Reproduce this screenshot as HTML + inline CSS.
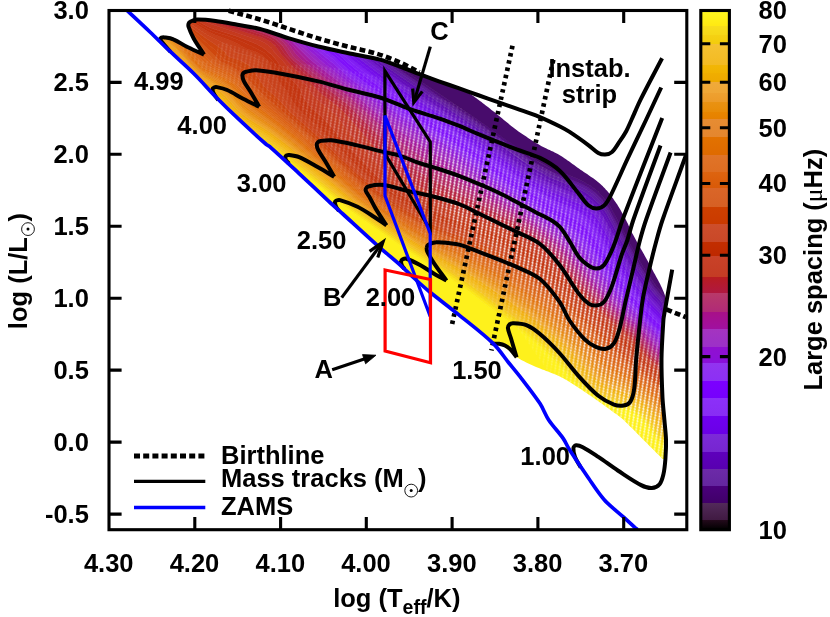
<!DOCTYPE html>
<html><head><meta charset="utf-8"><title>HR diagram</title>
<style>html,body{margin:0;padding:0;background:#fff;}svg{display:block;will-change:transform;}text{font-family:"Liberation Sans",sans-serif;font-weight:bold;fill:#000;}</style></head><body>
<svg width="830" height="617" viewBox="0 0 830 617">
<rect width="830" height="617" fill="#fff"/>
<defs>
<pattern id="tx" patternUnits="userSpaceOnUse" width="4.1" height="2.7" patternTransform="matrix(1 0.3 -0.15 1 0 0)"><ellipse cx="2.05" cy="1.35" rx="0.9" ry="1.22" fill="#fff"/></pattern>
</defs>
<defs><clipPath id="regclip"><path d="M170.4,51.7 L172.3,53.5 L174.3,55.3 L176.2,57.1 L178.2,58.9 L180.2,60.7 L182.1,62.5 L184.1,64.3 L186.0,66.1 L188.0,68.0 L189.9,69.8 L191.8,71.6 L193.7,73.5 L195.7,75.5 L197.6,77.5 L199.6,79.5 L201.5,81.6 L203.4,83.7 L205.3,85.7 L207.2,87.8 L209.1,89.8 L211.1,91.9 L213.0,94.0 L214.9,96.0 L216.9,98.0 L218.7,99.8 L220.5,101.6 L222.3,103.4 L224.1,105.2 L225.9,106.9 L227.7,108.7 L229.5,110.5 L231.3,112.2 L233.2,114.0 L235.0,115.7 L236.9,117.5 L238.7,119.2 L241.0,121.3 L243.3,123.5 L245.6,125.6 L247.9,127.7 L250.2,129.8 L252.5,132.0 L254.8,134.1 L257.1,136.2 L259.4,138.3 L261.7,140.4 L264.1,142.4 L266.4,144.5 L266.7,144.7 L267.0,144.9 L267.3,145.1 L267.6,145.3 L267.9,145.5 L268.2,145.6 L268.5,145.8 L268.8,146.0 L269.1,146.2 L269.4,146.4 L269.7,146.6 L270.0,146.8 L272.5,149.0 L274.9,151.2 L277.4,153.4 L279.8,155.6 L282.2,157.9 L284.7,160.1 L287.1,162.4 L289.5,164.6 L291.9,166.9 L294.4,169.1 L296.8,171.4 L299.2,173.6 L301.6,175.9 L304.1,178.1 L306.5,180.4 L308.9,182.7 L311.3,184.9 L313.7,187.2 L316.2,189.5 L318.6,191.7 L321.0,194.0 L323.4,196.3 L325.9,198.5 L328.3,200.8 L329.5,201.9 L330.7,203.0 L331.9,204.1 L333.1,205.2 L334.4,206.3 L335.6,207.4 L336.8,208.5 L338.0,209.6 L339.2,210.7 L340.5,211.8 L341.7,212.9 L342.9,214.0 L345.8,216.6 L348.7,219.3 L351.6,222.0 L354.5,224.6 L357.4,227.3 L360.3,229.9 L363.2,232.6 L366.1,235.3 L369.0,237.9 L371.9,240.5 L374.9,243.2 L377.8,245.8 L379.6,247.4 L381.5,249.0 L383.3,250.6 L385.2,252.2 L387.0,253.7 L388.9,255.3 L390.8,256.9 L392.6,258.4 L394.5,260.0 L396.3,261.6 L398.2,263.2 L400.0,264.8 L401.3,266.0 L402.5,267.1 L403.8,268.3 L405.0,269.5 L406.3,270.7 L407.5,271.9 L408.8,273.1 L410.0,274.3 L411.2,275.5 L412.5,276.7 L413.7,277.8 L415.0,279.0 L416.2,280.1 L417.3,281.1 L418.5,282.2 L419.7,283.2 L420.8,284.3 L422.0,285.3 L423.2,286.4 L424.4,287.4 L425.6,288.5 L426.8,289.5 L428.0,290.5 L429.2,291.5 L431.6,293.4 L434.0,295.4 L436.4,297.3 L438.9,299.2 L441.3,301.1 L443.7,303.0 L446.2,304.8 L448.6,306.7 L451.1,308.6 L453.5,310.5 L455.9,312.5 L458.3,314.4 L461.3,316.8 L464.2,319.2 L467.2,321.5 L470.2,323.9 L473.2,326.3 L476.1,328.7 L479.1,331.1 L482.0,333.5 L484.9,336.0 L487.7,338.5 L490.5,341.0 L493.3,343.6 L494.3,343.9 L495.3,344.2 L496.3,344.5 L497.3,344.7 L498.3,345.0 L499.3,345.3 L500.3,345.6 L501.3,345.9 L502.2,346.2 L503.2,346.6 L504.1,347.0 L505.0,347.5 L506.0,348.2 L507.0,348.9 L508.0,349.7 L509.0,350.5 L509.9,351.4 L510.8,352.3 L511.7,353.2 L512.7,354.1 L513.6,354.9 L514.6,355.7 L515.6,356.5 L516.6,357.2 L518.1,358.1 L519.7,359.0 L521.3,359.9 L522.9,360.8 L524.5,361.6 L526.2,362.4 L527.8,363.2 L529.5,363.9 L531.1,364.7 L532.8,365.4 L534.4,366.2 L536.1,366.9 L538.1,367.8 L540.1,368.6 L542.1,369.4 L544.1,370.1 L546.1,370.9 L548.1,371.6 L550.1,372.4 L552.1,373.2 L554.1,374.0 L556.1,374.8 L558.1,375.7 L560.0,376.6 L561.6,377.4 L563.3,378.3 L564.9,379.2 L566.4,380.1 L568.0,381.1 L569.6,382.0 L571.2,383.0 L572.7,384.0 L574.3,385.0 L575.8,386.0 L577.4,387.0 L578.9,388.0 L580.5,389.0 L582.1,390.1 L583.7,391.2 L585.3,392.2 L586.9,393.3 L588.5,394.4 L590.1,395.5 L591.7,396.6 L593.3,397.7 L594.8,398.8 L596.4,399.9 L598.0,401.0 L599.7,402.2 L601.3,403.3 L603.0,404.5 L604.6,405.7 L606.3,406.9 L607.9,408.1 L609.6,409.3 L611.2,410.5 L612.9,411.7 L614.5,412.9 L616.2,414.1 L617.8,415.3 L618.3,415.7 L618.8,416.0 L619.3,416.4 L619.8,416.8 L620.3,417.2 L620.8,417.6 L621.3,418.0 L621.7,418.3 L622.2,418.7 L622.7,419.2 L623.1,419.6 L623.6,420.0 L625.2,421.6 L626.9,423.2 L628.5,424.8 L630.1,426.4 L631.7,428.0 L633.4,429.6 L635.0,431.3 L636.6,432.9 L638.2,434.5 L639.8,436.2 L641.4,437.8 L643.0,439.4 L644.6,441.0 L646.2,442.6 L647.9,444.3 L649.5,445.9 L651.1,447.5 L652.7,449.1 L654.4,450.8 L656.0,452.4 L657.6,454.0 L659.2,455.6 L660.9,457.3 L662.5,458.9 L665.4,458.9 L665.5,457.3 L665.6,455.7 L665.7,454.0 L665.8,452.4 L665.9,450.8 L665.9,449.2 L666.0,447.5 L666.0,445.9 L666.0,444.3 L666.0,442.6 L666.0,441.0 L666.0,439.4 L665.9,437.8 L665.9,436.2 L665.8,434.5 L665.6,432.9 L665.5,431.3 L665.3,429.7 L665.2,428.1 L665.0,426.5 L664.9,424.8 L664.7,423.2 L664.5,421.6 L664.4,420.0 L664.2,418.2 L664.1,416.3 L663.9,414.5 L663.7,412.6 L663.5,410.8 L663.3,408.9 L663.2,407.1 L663.0,405.2 L662.9,403.4 L662.7,401.5 L662.6,399.7 L662.5,397.8 L662.3,394.6 L662.2,391.3 L662.1,388.1 L661.9,384.8 L661.8,381.6 L661.7,378.4 L661.6,375.1 L661.6,371.9 L661.5,368.6 L661.5,365.4 L661.5,362.1 L661.5,358.9 L661.6,355.7 L661.6,352.4 L661.7,349.2 L661.9,345.9 L662.0,342.7 L662.2,339.4 L662.4,336.2 L662.6,333.0 L662.8,329.7 L663.0,326.5 L663.2,323.2 L663.4,320.0 L663.4,319.4 L663.5,318.9 L663.6,318.3 L663.6,317.8 L663.7,317.2 L663.8,316.6 L663.9,316.1 L664.0,315.5 L664.1,315.0 L664.2,314.4 L664.3,313.9 L664.4,313.3 L666.4,309.4 L666.3,308.1 L666.1,306.8 L666.0,305.5 L666.0,304.2 L665.9,302.8 L665.8,301.5 L665.7,300.2 L665.5,298.9 L665.3,297.6 L665.1,296.4 L664.8,295.1 L664.4,293.9 L663.7,291.9 L662.8,289.9 L662.0,287.9 L661.0,285.9 L660.1,284.0 L659.0,282.1 L658.0,280.1 L657.0,278.2 L655.9,276.3 L654.9,274.3 L653.8,272.4 L652.8,270.5 L651.9,268.7 L650.9,266.9 L649.9,265.1 L649.0,263.4 L648.0,261.6 L647.0,259.8 L646.0,258.0 L645.0,256.3 L644.1,254.5 L643.1,252.7 L642.1,251.0 L641.1,249.2 L640.3,247.7 L639.5,246.3 L638.7,244.8 L637.8,243.4 L637.0,241.9 L636.2,240.5 L635.4,239.0 L634.6,237.6 L633.8,236.1 L633.0,234.6 L632.2,233.2 L631.4,231.7 L631.0,231.0 L630.7,230.3 L630.4,229.5 L630.1,228.8 L629.8,228.1 L629.4,227.3 L629.1,226.6 L628.8,225.9 L628.5,225.2 L628.2,224.4 L627.9,223.7 L627.5,223.0 L626.7,221.5 L626.0,220.0 L625.2,218.6 L624.4,217.1 L623.6,215.6 L622.8,214.1 L622.0,212.7 L621.2,211.2 L620.4,209.8 L619.5,208.3 L618.7,206.9 L617.8,205.5 L617.1,204.3 L616.3,203.2 L615.5,202.0 L614.7,200.9 L613.9,199.7 L613.1,198.6 L612.3,197.5 L611.5,196.3 L610.6,195.2 L609.8,194.2 L608.9,193.1 L608.0,192.0 L607.3,191.1 L606.5,190.3 L605.7,189.4 L605.0,188.5 L604.2,187.7 L603.4,186.9 L602.6,186.0 L601.7,185.2 L600.9,184.4 L600.1,183.7 L599.2,182.9 L598.3,182.2 L596.8,181.0 L595.2,179.8 L593.6,178.6 L592.0,177.5 L590.4,176.4 L588.7,175.2 L587.1,174.1 L585.4,173.0 L583.8,171.9 L582.2,170.8 L580.5,169.7 L578.9,168.6 L577.3,167.5 L575.7,166.3 L574.1,165.1 L572.5,164.0 L570.9,162.8 L569.3,161.6 L567.6,160.5 L566.0,159.3 L564.4,158.2 L562.7,157.1 L561.1,156.0 L559.4,155.0 L557.8,154.1 L556.2,153.2 L554.6,152.4 L553.0,151.6 L551.4,150.9 L549.7,150.1 L548.1,149.4 L546.4,148.6 L544.8,147.8 L543.2,147.0 L541.6,146.2 L540.0,145.3 L538.0,144.1 L536.0,142.9 L534.0,141.7 L532.0,140.5 L530.1,139.2 L528.1,137.9 L526.2,136.6 L524.2,135.3 L522.3,134.0 L520.4,132.7 L518.5,131.4 L516.6,130.0 L514.9,128.8 L513.3,127.5 L511.6,126.2 L510.0,124.9 L508.4,123.6 L506.8,122.3 L505.2,121.0 L503.6,119.7 L502.0,118.3 L500.4,117.0 L498.8,115.7 L497.2,114.4 L495.8,113.3 L494.4,112.1 L492.9,111.0 L491.5,109.9 L490.1,108.8 L488.6,107.6 L487.2,106.5 L485.8,105.4 L484.3,104.3 L482.9,103.2 L481.5,102.1 L480.0,101.0 L479.0,100.3 L478.0,99.5 L477.0,98.8 L476.1,98.1 L475.1,97.4 L474.1,96.6 L473.1,95.9 L472.1,95.2 L471.1,94.5 L470.0,93.9 L469.0,93.2 L468.0,92.5 L467.4,92.1 L466.7,91.7 L466.1,91.3 L465.4,90.9 L464.8,90.5 L464.1,90.1 L463.4,89.7 L462.8,89.3 L462.1,89.0 L461.4,88.6 L460.7,88.3 L460.0,88.0 L458.3,87.3 L456.5,86.6 L454.8,86.0 L453.0,85.4 L451.2,84.8 L449.5,84.2 L447.7,83.6 L445.9,83.0 L444.2,82.4 L442.4,81.8 L440.6,81.2 L438.9,80.5 L437.3,79.9 L435.6,79.2 L434.0,78.5 L432.4,77.8 L430.8,77.1 L429.2,76.4 L427.6,75.7 L425.9,75.0 L424.3,74.3 L422.7,73.6 L421.1,72.9 L419.5,72.2 L419.1,73.9 L417.3,73.3 L415.6,72.6 L413.9,71.9 L412.1,71.2 L410.4,70.5 L408.7,69.8 L407.0,69.2 L405.2,68.5 L403.5,67.8 L401.7,67.1 L400.0,66.5 L398.3,65.9 L396.7,65.3 L395.0,64.6 L393.4,64.0 L391.7,63.4 L390.1,62.8 L388.4,62.2 L386.7,61.6 L385.1,61.1 L383.4,60.6 L381.7,60.1 L380.0,59.6 L377.3,58.9 L374.6,58.3 L371.9,57.7 L369.2,57.2 L366.5,56.6 L363.8,56.1 L361.1,55.6 L358.4,55.1 L355.6,54.6 L352.9,54.1 L350.2,53.6 L347.5,53.0 L345.1,52.5 L342.6,52.0 L340.2,51.5 L337.7,50.9 L335.3,50.4 L332.9,49.9 L330.4,49.3 L328.0,48.8 L325.6,48.2 L323.1,47.7 L320.7,47.1 L318.3,46.5 L315.9,45.9 L313.4,45.3 L311.0,44.6 L308.6,44.0 L306.1,43.3 L303.7,42.6 L301.3,41.9 L298.9,41.2 L296.4,40.5 L294.0,39.8 L291.6,39.1 L289.2,38.4 L286.8,37.6 L284.3,36.9 L281.9,36.1 L279.5,35.2 L277.0,34.4 L274.6,33.6 L272.2,32.8 L269.8,31.9 L267.3,31.2 L264.9,30.4 L262.5,29.7 L260.0,29.0 L258.2,28.5 L256.3,28.1 L254.4,27.7 L252.6,27.3 L250.7,27.0 L248.8,26.6 L246.9,26.3 L245.0,26.0 L243.1,25.7 L241.3,25.4 L239.4,25.0 L237.5,24.7 L235.7,24.4 L233.9,24.0 L232.0,23.7 L230.2,23.4 L228.4,23.0 L226.6,22.7 L224.7,22.4 L222.9,22.1 L221.1,21.8 L219.3,21.5 L217.4,21.2 L215.6,21.0 L214.0,20.8 L212.5,20.6 L210.9,20.4 L209.3,20.2 L207.7,20.1 L206.1,19.9 L204.6,19.8 L203.0,19.7 L201.4,19.6 L199.8,19.6 L198.3,19.6 L196.7,19.6 L196.1,19.6 L195.6,19.7 L195.0,19.8 L194.4,20.0 L193.9,20.2 L193.3,20.4 L192.8,20.6 L192.2,20.8 L191.7,21.1 L191.1,21.3 L190.6,21.6 L190.1,21.8 L189.9,21.9 L189.8,22.0 L189.6,22.1 L189.5,22.2 L189.3,22.4 L189.2,22.5 L189.0,22.7 L188.9,22.8 L188.8,23.0 L188.7,23.2 L188.7,23.3 L188.6,23.5 L188.5,23.8 L188.5,24.0 L188.4,24.3 L188.4,24.6 L188.4,24.9 L188.4,25.2 L188.4,25.5 L188.4,25.8 L188.4,26.1 L188.5,26.4 L188.5,26.6 L188.6,26.9 L188.9,27.9 L189.3,28.9 L189.7,29.9 L190.1,30.8 L190.5,31.8 L190.9,32.8 L191.3,33.8 L191.8,34.7 L192.2,35.7 L192.7,36.6 L193.2,37.6 L193.7,38.5 L194.5,39.9 L195.3,41.2 L196.1,42.6 L197.0,43.9 L197.8,45.3 L198.7,46.6 L199.6,47.9 L200.5,49.3 L201.4,50.6 L202.3,51.9 L203.1,53.3 L204.0,54.6 L204.0,54.6 L202.7,54.0 L201.3,53.4 L200.0,52.8 L198.6,52.2 L197.3,51.6 L195.9,51.0 L194.6,50.4 L193.2,49.8 L191.9,49.2 L190.5,48.6 L189.2,47.9 L187.9,47.3 L186.7,46.7 L185.4,46.0 L184.2,45.3 L183.0,44.6 L181.8,43.9 L180.6,43.2 L179.4,42.5 L178.2,41.8 L177.0,41.1 L175.8,40.5 L174.6,39.9 L173.3,39.3 L172.6,39.0 L171.9,38.8 L171.2,38.6 L170.5,38.4 L169.8,38.2 L169.0,38.1 L168.3,37.9 L167.6,37.8 L166.8,37.7 L166.1,37.6 L165.3,37.5 L164.6,37.4 L164.3,37.4 L164.1,37.3 L163.8,37.3 L163.5,37.3 L163.3,37.3 L163.0,37.3 L162.7,37.3 L162.5,37.3 L162.2,37.4 L162.0,37.4 L161.7,37.5 L161.5,37.6 L161.3,37.7 L161.2,37.8 L161.0,37.9 L160.9,38.0 L160.7,38.2 L160.5,38.3 L160.4,38.5 L160.3,38.7 L160.2,38.8 L160.2,39.0 L160.2,39.2 L160.2,39.3 L160.4,39.7 L160.6,40.2 L160.9,40.6 L161.2,41.0 L161.5,41.5 L161.8,41.9 L162.2,42.4 L162.5,42.8 L162.9,43.2 L163.3,43.7 L163.7,44.1 L164.0,44.5 L164.5,45.1 L165.0,45.7 L165.6,46.3 L166.1,46.9 L166.6,47.5 L167.2,48.1 L167.7,48.7 L168.2,49.3 L168.8,49.9 L169.3,50.5 L169.9,51.1 L170.4,51.7 Z"/></clipPath></defs>
<g clip-path="url(#regclip)" stroke-width="0.6">
<path d="M101.0,38.0 138.2,58.0 160.0,75.1 174.4,88.0 188.0,93.3 204.0,101.7 210.0,105.5 234.0,125.5 284.0,158.8 302.0,173.4 319.0,186.0 344.0,206.2 408.0,251.0 443.7,274.0 464.0,288.0 519.9,330.0 534.8,342.0 552.4,358.0 574.7,382.0 586.0,391.3 600.0,399.5 608.0,402.9 627.6,410.0 632.0,412.3 637.3,416.0 644.0,422.8 656.0,439.0 664.0,448.0 678.0,460.3 698.0,476.0 698.0,538.0 100.0,538.0 100.0,37.5 101.0,38.0Z" fill="#fef11c" stroke="#fef11c"/>
<path d="M102.0,35.9 136.0,53.2 142.0,56.7 162.0,72.7 176.4,86.0 190.0,91.6 202.0,97.7 210.0,102.6 216.0,107.1 234.0,123.2 284.0,156.4 346.0,205.7 408.0,249.0 450.3,276.0 470.5,290.0 521.2,328.0 538.6,342.0 555.9,358.0 578.0,381.8 587.8,390.0 594.0,394.1 602.0,398.3 628.0,407.9 634.0,411.0 638.0,413.8 646.0,421.9 658.0,438.0 664.0,444.8 676.3,456.0 698.0,473.2 698.0,476.0 678.0,460.3 664.0,448.0 656.0,439.0 643.3,422.0 636.0,414.9 627.6,410.0 608.0,402.9 600.0,399.5 586.0,391.3 574.7,382.0 552.4,358.0 536.0,343.0 520.0,330.1 466.8,290.0 446.7,276.0 408.0,251.0 344.0,206.2 319.0,186.0 302.0,173.4 284.0,158.8 234.0,125.5 210.0,105.5 204.0,101.7 188.0,93.3 174.0,87.7 160.0,75.1 140.0,59.2 131.4,54.0 100.0,37.5 100.0,34.8 102.0,35.9Z" fill="#fce918" stroke="#fce918"/>
<path d="M102.0,33.3 118.0,41.6 140.4,52.0 146.0,55.3 164.0,70.0 178.0,83.5 198.0,92.8 213.2,102.0 235.5,122.0 260.5,138.0 284.0,154.1 348.0,205.4 408.0,247.1 453.7,276.0 476.7,292.0 522.4,326.0 542.2,342.0 558.0,356.6 579.4,380.0 588.6,388.0 594.4,392.0 602.0,396.2 610.0,399.5 628.9,406.0 634.0,408.5 639.0,412.0 646.0,418.9 658.0,434.6 664.4,442.0 676.0,452.8 698.0,470.3 698.0,473.2 678.0,457.4 665.2,446.0 658.0,438.0 644.4,420.0 638.0,413.8 634.0,411.0 628.0,407.9 602.0,398.3 594.0,394.1 587.8,390.0 578.0,381.8 555.9,358.0 538.6,342.0 521.2,328.0 470.5,290.0 450.3,276.0 408.0,249.0 346.0,205.7 284.0,156.4 234.0,123.2 212.0,104.0 200.0,96.7 186.0,89.7 176.4,86.0 162.0,72.7 142.0,56.7 100.0,34.8 100.0,32.2 102.0,33.3Z" fill="#f8dc1a" stroke="#f8dc1a"/>
<path d="M101.4,30.0 124.0,41.3 145.5,50.0 150.0,52.3 164.0,63.7 180.0,80.2 182.0,81.7 196.0,88.4 215.0,100.0 220.0,104.2 229.6,114.0 236.3,120.0 244.0,125.4 264.0,137.7 284.0,151.6 348.7,204.0 408.0,245.1 466.6,282.0 516.0,318.0 534.2,332.0 553.0,348.0 564.0,358.9 581.0,378.0 592.0,387.6 604.0,394.7 612.0,397.9 630.0,404.0 636.0,407.1 640.1,410.0 648.0,417.9 660.0,433.4 668.0,442.2 680.0,452.8 698.0,467.1 698.0,470.3 678.0,454.5 666.3,444.0 659.1,436.0 646.0,418.9 639.0,412.0 634.0,408.5 628.9,406.0 610.0,399.5 602.0,396.2 594.4,392.0 588.6,388.0 579.4,380.0 558.0,356.6 542.2,342.0 522.4,326.0 476.7,292.0 453.7,276.0 408.0,247.1 348.0,205.4 284.0,154.1 260.5,138.0 235.5,122.0 228.4,116.0 218.0,105.8 212.0,101.1 198.0,92.8 178.7,84.0 164.0,70.0 146.0,55.3 140.4,52.0 118.0,41.6 100.0,32.2 100.0,29.3 101.4,30.0Z" fill="#f5d01a" stroke="#f5d01a"/>
<path d="M100.1,26.0 118.0,35.0 130.0,40.3 140.0,43.8 148.0,45.5 161.8,54.0 173.8,64.0 186.0,77.5 198.0,86.2 212.0,94.4 218.0,98.6 222.0,102.1 233.2,114.0 240.2,120.0 265.8,136.0 286.0,150.4 350.0,202.8 408.0,242.9 468.1,280.0 518.2,316.0 538.8,332.0 557.4,348.0 567.4,358.0 584.0,376.9 594.0,385.7 600.7,390.0 608.0,393.6 632.0,402.0 638.0,405.4 642.0,408.4 649.5,416.0 662.0,431.5 669.9,440.0 680.0,448.9 698.0,463.4 698.0,467.1 680.0,452.8 668.0,442.2 660.0,433.4 648.0,417.9 640.1,410.0 636.0,407.1 630.0,404.0 612.0,397.9 604.0,394.7 592.0,387.6 581.0,378.0 564.0,358.9 553.0,348.0 534.2,332.0 516.0,318.0 466.6,282.0 408.0,245.1 348.7,204.0 284.0,151.6 264.0,137.7 244.0,125.4 236.3,120.0 229.6,114.0 220.0,104.2 215.0,100.0 196.0,88.4 182.0,81.7 180.0,80.2 164.0,63.7 150.0,52.3 145.5,50.0 124.0,41.3 104.0,31.4 100.0,29.3 100.1,26.0Z" fill="#f4c325" stroke="#f4c325"/>
<path d="M102.0,23.7 116.0,30.7 130.0,36.8 140.0,40.1 148.0,41.5 166.0,52.6 174.0,59.5 187.9,74.0 194.0,79.6 202.0,85.3 216.0,93.6 221.6,98.0 234.7,112.0 240.0,116.8 247.2,122.0 266.9,134.0 286.0,147.8 324.0,179.0 342.0,194.5 351.7,202.0 408.0,240.8 472.3,280.0 528.2,320.0 548.0,336.0 561.7,348.0 570.0,356.4 586.0,374.8 596.0,383.8 602.0,387.7 608.0,390.7 632.0,399.3 637.1,402.0 642.0,405.4 650.0,413.1 664.0,429.8 670.0,436.1 680.0,445.1 698.0,459.6 698.0,463.4 680.0,448.9 669.9,440.0 662.0,431.5 649.5,416.0 642.0,408.4 638.0,405.4 632.0,402.0 608.0,393.6 600.7,390.0 594.0,385.7 584.0,376.9 567.4,358.0 557.4,348.0 538.8,332.0 518.2,316.0 468.1,280.0 408.0,242.9 350.0,202.8 286.0,150.4 265.8,136.0 240.2,120.0 233.2,114.0 222.0,102.1 218.0,98.6 212.0,94.4 198.0,86.2 186.0,77.5 173.8,64.0 161.8,54.0 148.0,45.5 140.0,43.8 132.0,41.1 120.0,36.0 106.0,29.1 100.0,25.9 100.0,22.6 102.0,23.7Z" fill="#f3bb1e" stroke="#f3bb1e"/>
<path d="M102.0,21.2 116.0,28.2 130.0,34.3 140.0,37.6 148.0,38.8 161.0,46.0 167.1,50.0 174.0,55.8 193.2,76.0 200.9,82.0 220.0,94.0 224.5,98.0 235.3,110.0 241.7,116.0 248.0,120.5 268.0,132.8 286.0,145.9 352.0,200.8 384.0,223.2 410.0,240.6 472.4,278.0 523.6,314.0 544.0,330.0 562.7,346.0 572.6,356.0 588.1,374.0 598.0,382.7 604.0,386.5 610.0,389.4 632.0,397.3 642.0,403.3 650.0,410.7 664.0,426.9 672.0,435.2 698.0,456.8 698.0,459.6 680.0,445.1 670.0,436.1 664.0,429.8 650.0,413.1 642.0,405.4 637.1,402.0 632.0,399.3 608.0,390.7 602.0,387.7 596.0,383.8 586.0,374.8 570.0,356.4 561.7,348.0 548.0,336.0 528.2,320.0 472.3,280.0 408.0,240.8 351.7,202.0 342.0,194.5 324.0,179.0 286.0,147.8 266.9,134.0 247.2,122.0 240.0,116.8 234.7,112.0 221.6,98.0 216.0,93.6 202.0,85.3 194.0,79.6 187.9,74.0 174.0,59.5 166.0,52.6 148.0,41.5 142.0,40.6 134.0,38.3 112.0,28.8 100.0,22.6 100.0,20.2 102.0,21.2Z" fill="#f2b311" stroke="#f2b311"/>
<path d="M101.2,18.0 116.0,25.5 130.0,31.5 140.0,34.8 150.0,36.7 163.6,44.0 169.7,48.0 176.0,53.6 188.7,68.0 194.6,74.0 202.0,79.8 216.0,88.4 222.0,92.8 226.0,96.4 236.2,108.0 242.4,114.0 250.0,119.5 269.9,132.0 286.2,144.0 353.2,200.0 380.0,218.9 410.0,239.0 476.0,278.0 522.0,310.0 542.6,326.0 564.0,344.0 574.0,354.0 590.0,372.5 600.0,381.2 610.0,386.9 633.9,396.0 643.3,402.0 651.9,410.0 664.0,423.7 672.0,431.9 698.0,453.5 698.0,456.8 672.0,435.2 664.0,426.9 650.0,410.7 642.0,403.3 632.0,397.3 610.0,389.4 604.0,386.5 598.0,382.7 588.1,374.0 572.6,356.0 562.7,346.0 544.0,330.0 523.6,314.0 472.4,278.0 410.0,240.6 384.0,223.2 352.0,200.8 286.0,145.9 268.0,132.8 248.0,120.5 241.7,116.0 235.3,110.0 224.5,98.0 220.0,94.0 200.9,82.0 193.2,76.0 174.0,55.8 167.1,50.0 161.0,46.0 148.0,38.8 142.0,38.0 134.0,35.8 112.0,26.3 100.0,20.2 100.0,17.3 101.2,18.0Z" fill="#f0ad12" stroke="#f0ad12"/>
<path d="M100.5,14.0 116.0,22.2 130.0,28.3 140.0,31.6 152.0,34.0 170.0,43.7 176.0,49.3 190.0,65.1 197.0,72.0 204.0,77.7 220.0,87.9 225.0,92.0 244.0,112.2 251.8,118.0 270.0,129.5 288.0,143.0 352.0,197.1 374.0,212.9 404.0,233.2 430.0,249.0 474.0,274.0 501.3,292.0 526.5,310.0 549.4,328.0 568.0,343.9 577.9,354.0 592.0,370.3 600.0,377.6 610.6,384.0 634.0,393.4 640.0,396.9 646.0,401.3 653.0,408.0 672.0,428.1 698.0,449.5 698.0,453.5 672.0,431.9 650.0,408.0 642.0,401.0 632.0,395.1 608.0,385.9 602.0,382.6 596.0,378.1 588.0,370.3 572.2,352.0 564.0,344.0 542.6,326.0 522.0,310.0 496.7,292.0 472.9,276.0 426.0,248.8 404.0,235.1 374.0,214.8 350.6,198.0 286.2,144.0 269.9,132.0 250.0,119.5 242.4,114.0 236.2,108.0 226.0,96.4 222.0,92.8 216.0,88.4 202.0,79.8 194.6,74.0 188.7,68.0 176.0,53.6 169.7,48.0 163.6,44.0 150.0,36.7 142.0,35.3 134.0,32.9 124.0,29.1 112.0,23.6 100.0,17.3 100.0,13.7 100.5,14.0Z" fill="#efa627" stroke="#efa627"/>
<path d="M102.0,12.0 114.0,18.5 128.0,25.0 140.0,29.2 154.0,32.2 168.0,39.3 172.0,43.0 190.7,64.0 198.0,71.1 206.0,77.0 220.0,85.9 225.5,90.0 230.0,94.2 242.0,107.7 246.7,112.0 272.0,128.9 290.0,142.6 352.7,196.0 374.0,211.4 404.0,231.7 430.0,247.4 476.0,273.1 502.0,290.0 526.0,307.0 547.9,324.0 569.2,342.0 579.2,352.0 594.0,369.0 601.8,376.0 612.0,382.1 634.0,391.3 640.0,394.8 646.0,399.1 653.5,406.0 672.0,425.1 698.0,446.4 698.0,449.5 672.0,428.1 651.1,406.0 642.0,398.2 632.0,392.4 608.0,382.7 598.0,376.0 590.0,368.1 576.0,351.9 566.0,342.1 544.0,323.6 523.8,308.0 498.3,290.0 474.0,274.0 430.0,249.0 404.0,233.2 374.0,212.9 353.2,198.0 288.0,143.0 270.0,129.5 251.8,118.0 244.0,112.2 225.0,92.0 220.0,87.9 204.0,77.7 197.0,72.0 190.0,65.1 176.0,49.3 170.0,43.7 152.0,34.0 136.0,30.4 118.0,23.1 100.0,13.7 100.0,10.7 102.0,12.0Z" fill="#ec9b24" stroke="#ec9b24"/>
<path d="M100.4,8.0 110.0,13.8 128.0,22.5 142.0,27.5 159.8,32.0 166.0,35.4 172.0,41.3 191.9,64.0 198.0,69.8 204.0,74.3 220.1,84.0 226.0,88.2 232.0,93.7 242.0,105.0 248.0,110.7 272.0,127.0 290.0,140.8 354.7,196.0 376.0,211.4 406.0,231.5 432.0,246.9 477.5,272.0 502.7,288.0 525.5,304.0 546.0,319.8 570.2,340.0 580.3,350.0 596.0,367.7 603.1,374.0 612.8,380.0 636.0,390.3 647.2,398.0 672.0,422.2 698.0,443.2 698.0,446.4 672.0,425.1 652.0,404.5 644.0,397.6 638.0,393.5 632.0,390.3 610.0,381.1 600.0,374.6 593.1,368.0 577.3,350.0 568.0,340.9 542.9,320.0 522.0,304.0 499.0,288.0 474.1,272.0 430.0,247.4 406.0,232.9 376.0,212.8 354.0,197.0 290.0,142.6 272.0,128.9 246.7,112.0 242.0,107.7 230.0,94.2 225.5,90.0 220.0,85.9 206.0,77.0 198.0,71.1 190.7,64.0 172.0,43.0 168.0,39.3 154.0,32.2 138.0,28.6 120.0,21.4 106.0,14.4 100.0,10.7 100.0,7.7 100.4,8.0Z" fill="#e99117" stroke="#e99117"/>
<path d="M101.4,6.0 111.0,12.0 130.0,21.1 142.0,25.6 160.0,30.6 166.0,33.8 172.0,39.7 190.9,62.0 198.0,68.9 204.0,73.2 222.0,83.6 228.0,87.9 234.0,93.5 244.0,104.7 249.8,110.0 274.0,126.7 292.0,140.7 356.5,196.0 380.0,212.8 408.0,231.4 434.0,246.7 477.3,270.0 502.9,286.0 524.0,300.6 544.3,316.0 570.8,338.0 580.0,346.8 595.3,364.0 602.0,370.4 612.0,377.3 634.0,387.4 646.0,395.2 653.9,402.0 672.0,419.6 698.0,440.4 698.0,443.2 674.0,423.9 652.0,402.2 644.0,395.5 632.0,388.3 610.0,378.5 602.0,373.2 596.0,367.7 580.3,350.0 570.0,339.8 543.8,318.0 522.0,301.5 502.7,288.0 476.0,271.1 432.0,246.9 406.0,231.5 378.0,212.8 356.0,197.0 290.0,140.8 272.0,127.0 248.0,110.7 242.0,105.0 232.0,93.7 226.0,88.2 220.1,84.0 204.0,74.3 198.0,69.8 191.9,64.0 172.0,41.3 166.0,35.4 159.8,32.0 140.0,26.9 124.0,20.7 108.0,12.8 100.0,7.7 100.0,5.1 101.4,6.0Z" fill="#e78913" stroke="#e78913"/>
<path d="M102.0,3.4 112.3,10.0 128.4,18.0 142.0,23.4 160.0,29.1 166.0,32.1 172.0,37.9 184.9,54.0 193.8,64.0 198.0,67.9 202.0,70.9 220.0,80.6 228.2,86.0 234.9,92.0 250.3,108.0 274.0,124.8 294.0,140.5 348.0,187.5 358.5,196.0 380.9,212.0 408.0,229.9 436.0,246.2 477.4,268.0 503.5,284.0 524.0,298.0 545.2,314.0 572.0,336.3 582.0,345.8 596.6,362.0 604.0,369.1 612.0,374.6 634.0,385.4 646.0,393.1 654.2,400.0 674.0,418.6 698.0,437.3 698.0,440.4 674.0,421.4 652.0,400.2 644.0,393.7 632.0,386.4 612.0,377.3 603.9,372.0 597.3,366.0 581.1,348.0 570.8,338.0 544.0,315.8 522.0,299.2 502.9,286.0 477.3,270.0 434.0,246.7 408.0,231.4 380.0,212.8 356.5,196.0 292.0,140.7 274.0,126.7 249.8,110.0 244.0,104.7 234.0,93.5 228.0,87.9 222.0,83.6 204.0,73.2 198.0,68.9 190.9,62.0 172.0,39.7 166.0,33.8 160.0,30.6 140.0,24.9 122.0,17.5 110.0,11.4 100.0,5.1 100.0,2.1 102.0,3.4Z" fill="#e68721" stroke="#e68721"/>
<path d="M102.0,0.4 114.0,8.2 126.0,14.4 140.0,20.5 160.0,27.5 168.0,32.0 174.0,38.3 189.5,58.0 198.0,66.9 204.0,71.1 222.0,80.0 230.0,85.3 235.3,90.0 252.0,107.0 276.0,124.3 295.7,140.0 348.3,186.0 360.5,196.0 385.9,214.0 410.0,229.7 438.0,245.6 480.0,267.5 506.0,283.2 524.0,295.5 546.0,312.0 572.6,334.0 582.0,342.8 598.0,360.1 606.0,367.7 614.0,373.2 634.0,383.4 646.0,391.1 654.4,398.0 674.0,415.8 698.0,434.2 698.0,437.3 674.0,418.6 652.0,398.1 644.0,391.6 634.0,385.4 614.0,375.8 605.2,370.0 598.5,364.0 582.2,346.0 571.7,336.0 542.6,312.0 520.0,295.2 503.5,284.0 477.4,268.0 436.0,246.2 408.0,229.9 380.9,212.0 358.5,196.0 348.0,187.5 294.0,140.5 274.0,124.8 250.3,108.0 234.9,92.0 228.2,86.0 220.0,80.6 202.0,70.9 198.0,67.9 193.8,64.0 184.9,54.0 172.0,37.9 166.0,32.1 160.0,29.1 136.0,21.2 120.0,14.0 112.0,9.8 100.0,2.1 100.0,0.0 102.0,0.4Z" fill="#e4821f" stroke="#e4821f"/>
<path d="M102.0,0.0 105.7,0.0 118.2,8.0 126.0,12.0 140.0,18.4 160.0,26.0 168.0,30.5 174.0,36.5 194.0,61.9 198.1,66.0 204.0,70.2 221.3,78.0 231.0,84.0 236.0,88.3 253.6,106.0 276.0,122.5 296.0,138.4 350.1,186.0 362.5,196.0 388.0,214.0 410.0,228.2 438.0,244.1 480.0,265.5 506.0,280.8 522.0,291.6 546.0,309.4 573.3,332.0 584.0,341.9 600.0,359.1 607.5,366.0 616.3,372.0 638.0,383.8 647.0,390.0 674.0,413.2 698.0,431.3 698.0,434.2 674.0,415.8 652.1,396.0 644.5,390.0 634.0,383.4 614.0,373.2 606.4,368.0 599.8,362.0 582.0,342.8 572.0,333.5 544.0,310.4 520.0,292.6 504.0,281.9 477.4,266.0 438.0,245.6 410.0,229.7 385.9,214.0 360.5,196.0 348.3,186.0 295.7,140.0 276.0,124.3 252.0,107.0 235.3,90.0 230.0,85.3 222.0,80.0 204.0,71.1 198.0,66.9 189.5,58.0 174.0,38.3 168.0,32.0 160.0,27.5 140.0,20.5 125.2,14.0 114.0,8.2 101.4,0.0 102.0,0.0Z" fill="#e27610" stroke="#e27610"/>
<path d="M106.0,0.0 110.1,0.0 126.7,10.0 140.0,16.3 160.0,24.5 168.0,29.0 171.7,32.0 178.0,39.7 184.0,45.5 196.0,60.6 203.2,68.0 224.0,77.7 233.6,84.0 254.1,104.0 278.0,122.1 298.0,138.2 352.0,185.9 364.5,196.0 390.1,214.0 412.0,228.0 440.0,243.6 480.0,263.5 506.0,278.5 522.0,289.0 546.0,306.8 574.0,329.9 585.0,340.0 602.0,358.0 608.6,364.0 616.0,369.3 636.0,380.7 648.0,388.8 672.0,409.1 698.0,428.4 698.0,431.3 674.0,413.2 646.0,389.2 634.0,381.5 616.0,371.8 608.0,366.4 600.0,359.1 584.0,341.9 573.3,332.0 544.2,308.0 520.0,290.1 504.6,280.0 478.0,264.4 438.0,244.1 410.0,228.2 388.0,214.0 362.5,196.0 350.1,186.0 296.0,138.4 276.0,122.5 253.6,106.0 236.0,88.3 231.0,84.0 221.3,78.0 204.0,70.2 198.1,66.0 194.0,61.9 174.0,36.5 168.0,30.5 160.0,26.0 140.0,18.4 126.0,12.0 118.2,8.0 106.0,0.0Z" fill="#e1710e" stroke="#e1710e"/>
<path d="M112.0,0.0 114.5,0.0 127.4,8.0 139.6,14.0 160.0,23.0 170.0,29.1 184.0,42.0 198.7,60.0 206.0,67.3 226.0,77.0 234.0,82.2 256.0,103.2 298.0,136.3 354.0,186.0 364.0,194.1 377.6,204.0 401.4,220.0 418.1,230.0 444.0,244.0 476.0,259.3 504.0,274.9 518.0,283.7 534.0,295.1 552.0,308.9 578.0,330.7 587.9,340.0 604.0,356.9 610.0,362.3 618.0,368.0 636.0,378.8 648.0,387.0 672.0,406.6 698.0,425.5 698.0,428.4 674.0,410.6 646.0,387.4 634.0,379.5 617.1,370.0 610.0,365.1 604.0,359.9 586.0,341.0 574.0,329.9 546.0,306.8 520.0,287.6 505.2,278.0 480.0,263.5 440.0,243.6 412.0,228.0 390.1,214.0 364.5,196.0 352.0,185.9 298.0,138.2 278.0,122.1 254.1,104.0 233.6,84.0 224.0,77.7 203.2,68.0 196.0,60.6 184.0,45.5 178.0,39.7 171.7,32.0 168.0,29.0 160.0,24.5 139.3,16.0 122.8,8.0 110.1,0.0 112.0,0.0Z" fill="#df6f1a" stroke="#df6f1a"/>
<path d="M116.0,0.0 118.9,0.0 131.9,8.0 160.0,21.4 170.0,27.6 185.3,40.0 200.2,58.0 208.2,66.0 226.0,74.9 236.6,82.0 256.0,100.6 304.0,139.4 358.4,188.0 376.9,202.0 398.0,216.3 414.0,226.2 440.0,240.3 474.0,256.3 498.0,269.2 516.0,279.8 534.0,292.5 552.0,306.2 578.0,328.0 588.8,338.0 606.0,355.7 612.0,361.0 650.0,386.6 672.0,404.1 698.0,422.7 698.0,425.5 674.0,408.1 646.0,385.5 612.0,363.8 604.0,356.9 586.0,338.2 574.0,327.2 546.0,304.1 520.0,285.1 505.8,276.0 480.0,261.5 440.1,242.0 414.0,227.7 395.3,216.0 369.2,198.0 354.0,186.0 300.0,138.0 254.6,102.0 240.0,87.4 234.0,82.2 226.0,77.0 206.0,67.3 198.7,60.0 184.0,42.0 170.0,29.1 160.0,23.0 139.6,14.0 127.4,8.0 114.5,0.0 116.0,0.0Z" fill="#de6b1b" stroke="#de6b1b"/>
<path d="M120.0,0.0 122.9,0.0 136.0,8.0 162.0,21.0 182.0,34.3 188.3,40.0 203.4,58.0 211.7,66.0 226.0,72.7 238.0,80.9 256.0,98.2 306.0,139.3 358.0,186.0 378.9,202.0 402.8,218.0 420.0,228.1 446.0,241.7 478.0,256.3 508.0,272.5 520.0,280.0 536.0,291.4 554.0,305.2 580.0,327.1 590.0,336.5 606.0,352.8 614.0,359.9 644.0,380.5 672.0,401.9 698.0,420.1 698.0,422.7 672.0,404.1 646.0,383.6 613.3,362.0 604.2,354.0 586.0,335.3 574.0,324.5 548.0,303.0 520.0,282.5 506.0,273.7 480.0,259.4 443.3,242.0 414.0,226.2 397.5,216.0 371.3,198.0 353.7,184.0 302.0,137.7 256.0,100.6 236.6,82.0 226.0,74.9 208.2,66.0 200.2,58.0 187.3,42.0 180.8,36.0 164.0,23.6 131.9,8.0 118.9,0.0 120.0,0.0Z" fill="#dc6516" stroke="#dc6516"/>
<path d="M124.0,0.0 127.0,0.0 139.9,8.0 162.0,19.5 178.0,29.1 184.0,33.3 191.3,40.0 204.0,54.9 213.1,64.0 216.0,65.9 230.0,72.7 238.0,78.4 258.7,98.0 306.0,137.3 355.4,182.0 372.7,196.0 398.9,214.0 416.0,224.3 445.9,240.0 480.0,255.3 510.0,271.2 522.0,278.7 550.0,299.3 574.0,319.3 586.1,330.0 606.0,349.9 615.0,358.0 648.0,381.6 672.0,399.6 698.0,417.5 698.0,420.1 672.0,401.9 644.0,380.5 614.1,360.0 606.0,352.8 586.0,332.6 576.0,323.7 548.0,300.4 522.0,281.4 508.0,272.5 480.0,257.4 442.5,240.0 416.0,225.9 396.6,214.0 370.6,196.0 355.6,184.0 304.0,137.5 258.0,99.9 238.0,80.9 226.0,72.7 211.7,66.0 203.4,58.0 188.3,40.0 182.0,34.3 164.0,22.2 136.0,8.0 122.9,0.0 124.0,0.0Z" fill="#db6215" stroke="#db6215"/>
<path d="M128.0,0.0 132.0,0.0 148.3,10.0 177.7,26.0 186.4,32.0 193.1,38.0 216.0,62.2 218.2,64.0 232.0,70.6 240.0,76.4 260.0,95.7 308.0,136.4 360.2,184.0 375.4,196.0 401.9,214.0 419.0,224.0 446.3,238.0 482.0,253.5 510.0,268.1 524.0,276.7 548.0,294.4 568.0,310.8 586.0,326.5 608.0,348.2 618.0,357.0 668.0,394.1 698.0,414.4 698.0,417.5 672.0,399.6 648.0,381.6 616.0,358.8 608.0,351.8 586.1,330.0 574.0,319.3 550.0,299.3 522.0,278.7 510.0,271.2 480.0,255.3 445.9,240.0 416.0,224.3 398.9,214.0 372.7,196.0 355.4,182.0 306.0,137.3 258.7,98.0 238.0,78.4 230.0,72.7 216.0,65.9 213.1,64.0 204.0,54.9 191.3,40.0 184.0,33.3 178.0,29.1 162.0,19.5 139.9,8.0 127.0,0.0 128.0,0.0Z" fill="#d85f1c" stroke="#d85f1c"/>
<path d="M132.0,0.0 137.0,0.0 156.0,11.4 178.0,23.4 188.0,30.1 197.0,38.0 221.3,62.0 232.0,66.7 242.0,73.5 262.0,93.7 312.0,137.0 360.7,182.0 375.6,194.0 402.0,212.0 419.2,222.0 447.1,236.0 474.0,246.9 484.0,251.5 510.0,264.6 524.0,273.1 548.0,290.8 564.0,303.8 586.0,323.0 610.0,346.4 621.0,356.0 643.8,374.0 660.0,385.9 698.0,411.2 698.0,414.4 668.0,394.1 619.2,358.0 608.0,348.2 586.0,326.5 566.0,309.1 548.0,294.4 522.0,275.4 508.0,267.0 482.0,253.5 446.3,238.0 419.0,224.0 401.9,214.0 375.4,196.0 360.2,184.0 308.0,136.4 260.0,95.7 240.0,76.4 232.0,70.6 218.2,64.0 216.0,62.2 193.1,38.0 186.4,32.0 177.7,26.0 148.3,10.0 132.0,0.0Z" fill="#d45819" stroke="#d45819"/>
<path d="M138.0,0.0 141.4,0.0 184.0,24.6 194.0,32.0 214.9,50.0 224.0,59.4 236.0,64.5 244.0,69.7 248.0,73.5 258.5,86.0 264.5,92.0 272.0,98.0 293.0,118.0 314.0,136.0 361.1,180.0 378.3,194.0 401.9,210.0 419.2,220.0 447.7,234.0 484.0,248.6 512.0,262.4 524.0,269.5 548.0,287.4 564.0,300.5 588.0,321.7 614.0,346.7 641.5,370.0 664.0,386.6 698.0,408.5 698.0,411.2 660.0,385.9 643.8,374.0 623.5,358.0 610.0,346.4 586.0,323.0 564.0,303.8 548.0,290.8 524.0,273.1 510.0,264.6 484.0,251.5 474.0,246.9 447.1,236.0 419.2,222.0 402.0,212.0 375.6,194.0 360.7,182.0 312.0,137.0 262.0,93.7 242.0,73.5 232.0,66.7 221.3,62.0 194.9,36.0 185.2,28.0 176.0,22.2 150.1,8.0 137.0,0.0 138.0,0.0Z" fill="#cf480e" stroke="#cf480e"/>
<path d="M142.0,0.0 145.8,0.0 186.0,23.4 206.0,38.3 220.4,48.0 224.8,52.0 228.0,56.1 230.0,57.3 240.0,60.3 248.0,64.4 252.0,68.2 260.9,82.0 265.8,88.0 276.0,96.8 290.3,112.0 316.0,134.6 335.9,154.0 364.1,180.0 378.7,192.0 402.2,208.0 419.6,218.0 448.9,232.0 474.0,241.2 486.0,246.3 512.0,258.6 526.0,266.9 542.0,279.0 564.0,297.0 588.0,318.4 612.0,341.5 644.2,370.0 662.0,383.1 698.0,405.8 698.0,408.5 664.0,386.6 643.9,372.0 614.0,346.7 588.0,321.7 562.0,298.7 542.0,282.8 524.0,269.5 512.0,262.4 484.0,248.6 447.7,234.0 419.2,220.0 401.9,210.0 378.3,194.0 361.1,180.0 314.0,136.0 293.0,118.0 272.0,98.0 264.5,92.0 258.5,86.0 248.0,73.5 244.0,69.7 236.0,64.5 224.0,59.4 214.9,50.0 194.0,32.0 186.0,26.0 178.0,20.9 154.0,7.6 142.0,0.0Z" fill="#cc440e" stroke="#cc440e"/>
<path d="M146.0,0.0 150.5,0.0 180.0,17.0 208.0,35.6 228.9,46.0 236.0,52.6 250.8,56.0 255.1,58.0 258.0,60.0 260.0,62.1 262.4,66.0 266.8,78.0 270.0,83.5 273.6,88.0 280.4,94.0 286.1,102.0 291.3,108.0 299.3,116.0 318.0,132.3 337.7,152.0 365.5,178.0 377.1,188.0 400.1,204.0 410.0,210.1 421.0,216.0 451.7,230.0 476.0,238.3 488.0,243.2 514.0,255.2 526.0,262.1 538.0,271.1 566.0,294.9 590.0,316.8 610.0,336.2 647.1,370.0 662.0,380.9 698.0,402.9 698.0,405.8 664.0,384.4 646.7,372.0 612.0,341.5 588.0,318.4 564.0,297.0 542.0,279.0 526.0,266.9 512.0,258.6 486.0,246.3 474.0,241.2 448.9,232.0 419.6,218.0 402.2,208.0 378.7,192.0 364.1,180.0 335.9,154.0 316.0,134.6 290.3,112.0 276.0,96.8 265.8,88.0 260.9,82.0 252.0,68.2 248.0,64.4 242.0,61.1 230.0,57.3 228.0,56.1 224.8,52.0 220.4,48.0 206.0,38.3 188.0,24.7 146.0,0.0Z" fill="#cb451c" stroke="#cb451c"/>
<path d="M152.0,0.0 155.2,0.0 184.0,16.8 208.0,31.8 214.0,34.5 230.0,40.2 237.9,44.0 246.0,48.8 256.1,52.0 263.2,56.0 268.7,62.0 277.7,80.0 282.2,86.0 286.2,90.0 291.5,100.0 297.4,108.0 303.3,114.0 320.0,128.8 342.5,152.0 369.7,178.0 379.0,186.0 401.8,202.0 419.4,212.0 451.2,226.0 478.0,234.8 494.0,241.1 516.0,251.1 528.0,258.1 540.0,267.5 566.0,290.9 610.0,332.6 628.0,348.4 647.7,368.0 662.0,378.6 698.0,400.1 698.0,402.9 662.0,380.9 647.1,370.0 610.0,336.2 590.0,316.8 566.0,294.9 538.0,271.1 526.0,262.1 514.0,255.2 488.0,243.2 476.0,238.3 451.7,230.0 421.0,216.0 403.2,206.0 379.7,190.0 365.5,178.0 337.7,152.0 318.0,132.3 299.3,116.0 291.3,108.0 286.1,102.0 280.4,94.0 273.6,88.0 270.0,83.5 266.8,78.0 262.4,66.0 260.0,62.1 258.0,60.0 255.1,58.0 250.8,56.0 236.0,52.6 228.9,46.0 208.0,35.6 184.0,19.4 150.5,0.0 152.0,0.0Z" fill="#c8411b" stroke="#c8411b"/>
<path d="M156.0,0.0 158.8,0.0 208.0,29.2 214.0,31.7 228.0,36.0 238.2,40.0 251.6,46.0 266.0,53.8 272.2,60.0 283.7,78.0 292.7,88.0 297.7,100.0 303.5,108.0 323.1,126.0 345.2,150.0 373.8,178.0 380.6,184.0 391.3,192.0 403.3,200.0 413.4,206.0 421.4,210.0 450.0,222.0 480.0,231.7 496.0,237.8 514.0,245.8 528.3,254.0 536.0,259.7 544.0,266.7 610.0,329.9 630.0,347.5 643.5,362.0 649.9,368.0 662.0,376.8 686.0,390.5 698.0,398.0 698.0,400.1 686.0,392.5 664.0,379.8 650.0,370.0 643.3,364.0 628.0,348.4 610.0,332.6 564.0,289.1 540.0,267.5 528.0,258.1 516.0,251.1 494.0,241.1 478.0,234.8 451.2,226.0 419.4,212.0 401.8,202.0 379.0,186.0 369.7,178.0 342.5,152.0 320.0,128.8 303.3,114.0 297.4,108.0 291.5,100.0 286.2,90.0 282.2,86.0 277.7,80.0 268.7,62.0 263.2,56.0 256.1,52.0 246.0,48.8 237.9,44.0 230.0,40.2 214.0,34.5 208.0,31.8 184.0,16.8 155.2,0.0 156.0,0.0Z" fill="#c43610" stroke="#c43610"/>
<path d="M160.0,0.0 162.4,0.0 208.0,26.7 214.0,29.1 236.0,36.0 256.5,44.0 263.4,48.0 270.8,54.0 274.7,58.0 288.0,75.7 299.6,88.0 303.8,98.0 309.7,106.0 327.3,122.0 347.6,146.0 362.0,160.2 376.8,176.0 385.7,184.0 405.9,198.0 420.7,206.0 450.6,218.0 480.0,227.5 500.0,235.0 516.0,242.4 530.0,250.8 536.9,256.0 544.0,262.2 567.5,286.0 608.0,325.3 630.0,344.6 643.8,360.0 649.9,366.0 662.0,375.0 686.0,388.4 698.0,395.8 698.0,398.0 686.0,390.5 662.0,376.8 649.9,368.0 643.5,362.0 630.0,347.5 610.0,329.9 544.0,266.7 536.0,259.7 528.0,253.8 514.0,245.8 494.0,237.0 478.0,231.0 450.0,222.0 421.4,210.0 413.4,206.0 403.3,200.0 383.1,186.0 373.8,178.0 347.2,152.0 324.0,126.9 303.5,108.0 297.7,100.0 292.7,88.0 283.7,78.0 272.2,60.0 266.0,53.8 251.6,46.0 238.2,40.0 228.0,36.0 214.0,31.7 208.0,29.2 158.8,0.0 160.0,0.0Z" fill="#c33410" stroke="#c33410"/>
<path d="M164.0,0.0 167.9,0.0 198.0,17.9 208.0,23.1 258.6,40.0 263.3,42.0 268.0,44.9 271.4,48.0 274.3,52.0 280.2,58.0 294.0,74.1 306.8,86.0 312.0,93.6 316.0,98.2 332.0,111.2 337.0,116.0 352.0,135.4 364.6,150.0 372.0,157.8 384.1,172.0 394.0,181.3 406.2,190.0 420.7,198.0 440.2,206.0 503.9,230.0 516.0,236.0 532.0,246.0 539.8,252.0 546.4,258.0 574.4,288.0 608.0,321.2 632.0,342.2 636.0,346.3 645.4,358.0 651.3,364.0 658.0,369.4 664.0,373.3 686.0,385.2 698.0,392.5 698.0,395.8 686.0,388.4 662.0,375.0 650.0,366.1 643.8,360.0 630.0,344.6 608.0,325.3 567.5,286.0 544.0,262.2 536.9,256.0 530.0,250.8 516.0,242.4 500.0,235.0 480.0,227.5 450.6,218.0 420.7,206.0 405.9,198.0 385.7,184.0 376.8,176.0 362.0,160.2 347.6,146.0 327.3,122.0 309.7,106.0 303.8,98.0 299.6,88.0 288.0,75.7 274.7,58.0 270.8,54.0 263.4,48.0 256.5,44.0 236.0,36.0 214.0,29.1 208.0,26.7 162.4,0.0 164.0,0.0Z" fill="#c53a1e" stroke="#c53a1e"/>
<path d="M168.0,0.0 173.4,0.0 198.0,14.5 210.0,20.5 260.0,36.8 266.0,39.2 270.9,42.0 275.5,46.0 281.1,54.0 294.0,68.0 309.9,82.0 322.0,94.0 337.7,106.0 344.2,112.0 388.0,161.8 396.0,170.0 402.0,175.3 414.0,183.6 432.0,193.1 508.0,226.0 520.0,232.7 534.0,242.0 542.0,248.2 550.0,255.6 577.1,286.0 608.0,317.2 616.0,324.7 634.1,340.0 647.1,356.0 652.7,362.0 658.0,366.4 664.0,370.4 686.0,382.1 698.0,389.2 698.0,392.5 686.0,385.2 664.0,373.3 658.0,369.4 652.0,364.7 645.4,358.0 636.0,346.3 632.0,342.2 608.0,321.2 574.4,288.0 546.4,258.0 539.8,252.0 532.0,246.0 516.0,236.0 503.9,230.0 440.2,206.0 420.7,198.0 406.2,190.0 394.9,182.0 386.0,174.0 370.4,156.0 364.6,150.0 352.0,135.4 337.0,116.0 332.0,111.2 316.0,98.2 312.0,93.6 306.8,86.0 294.0,74.1 280.2,58.0 274.3,52.0 271.4,48.0 268.0,44.9 263.3,42.0 258.6,40.0 208.0,23.1 198.0,17.9 168.0,0.0Z" fill="#c23626" stroke="#c23626"/>
<path d="M174.0,0.0 177.5,0.0 198.0,12.0 210.0,18.0 262.0,35.0 269.1,38.0 274.0,41.1 279.3,46.0 284.7,54.0 294.0,64.1 326.0,91.9 339.3,102.0 346.3,108.0 362.0,125.0 378.9,142.0 389.0,154.0 404.0,168.3 416.0,176.9 434.0,187.0 512.0,224.1 522.0,230.2 536.2,240.0 544.0,246.1 552.4,254.0 580.4,286.0 608.0,314.1 616.3,322.0 636.0,338.8 648.0,354.0 654.0,360.5 664.0,368.1 686.0,379.7 698.0,386.7 698.0,389.2 686.0,382.1 664.0,370.4 654.0,363.1 647.1,356.0 634.1,340.0 616.0,324.7 608.0,317.2 577.1,286.0 550.0,255.6 542.0,248.2 534.0,242.0 520.0,232.7 508.0,226.0 432.0,193.1 414.0,183.6 402.0,175.3 396.0,170.0 388.0,161.8 344.2,112.0 337.7,106.0 322.0,94.0 309.9,82.0 294.0,68.0 281.1,54.0 275.5,46.0 270.9,42.0 266.0,39.2 260.0,36.8 216.0,22.7 208.0,19.7 196.0,13.4 174.0,0.0Z" fill="#ba2732" stroke="#ba2732"/>
<path d="M178.0,0.0 181.6,0.0 200.0,10.7 212.0,16.4 264.0,33.4 270.2,36.0 276.0,39.6 282.7,46.0 289.4,56.0 294.0,60.8 324.0,85.9 347.1,104.0 366.0,123.1 383.8,140.0 398.6,156.0 410.0,165.5 422.0,173.4 440.0,183.5 514.0,221.7 529.7,232.0 544.0,242.7 556.1,254.0 581.9,284.0 604.9,308.0 617.2,320.0 632.0,332.2 638.0,337.8 650.0,353.3 656.0,359.7 666.0,366.9 686.0,377.3 698.0,384.3 698.0,386.7 686.0,379.7 666.0,369.3 655.6,362.0 649.7,356.0 636.0,338.8 616.3,322.0 608.0,314.1 580.4,286.0 552.4,254.0 544.0,246.1 536.2,240.0 522.0,230.2 512.0,224.1 434.0,187.0 416.0,176.9 404.0,168.3 389.0,154.0 378.9,142.0 362.0,125.0 346.3,108.0 339.3,102.0 326.0,91.9 294.0,64.1 284.7,54.0 279.3,46.0 274.0,41.1 269.1,38.0 262.0,35.0 210.0,18.0 198.0,12.0 178.0,0.0Z" fill="#b62542" stroke="#b62542"/>
<path d="M182.0,0.0 186.7,0.0 202.0,8.7 212.0,13.5 266.0,31.5 272.0,34.1 278.3,38.0 282.9,42.0 286.5,46.0 293.1,56.0 295.0,58.0 324.0,81.6 348.1,100.0 372.0,122.7 404.0,151.7 413.9,160.0 422.0,165.5 446.0,179.6 490.0,204.7 514.0,217.6 529.5,228.0 546.0,240.4 558.4,252.0 585.8,284.0 608.6,308.0 618.8,318.0 638.0,334.3 656.0,356.3 660.2,360.0 666.0,364.0 686.0,374.4 698.0,381.3 698.0,384.3 686.0,377.3 666.0,366.9 656.0,359.7 650.6,354.0 636.2,336.0 618.0,320.7 608.9,312.0 581.9,284.0 554.2,252.0 546.0,244.4 538.0,238.0 524.0,228.0 514.0,221.7 436.0,181.3 418.0,170.9 404.0,160.7 398.6,156.0 383.8,140.0 366.0,123.1 348.0,104.8 324.0,85.9 294.0,60.8 289.4,56.0 282.7,46.0 276.0,39.6 270.2,36.0 264.0,33.4 218.0,18.6 210.0,15.6 198.0,9.6 182.0,0.0Z" fill="#b32a61" stroke="#b32a61"/>
<path d="M188.0,0.0 191.8,0.0 206.0,7.8 218.0,13.1 268.0,29.7 274.0,32.5 280.0,36.2 288.0,43.6 296.0,54.1 299.7,58.0 326.0,79.1 350.0,97.2 376.0,121.0 410.0,148.6 441.3,170.0 489.9,200.0 518.0,216.3 534.0,227.6 548.0,238.3 562.4,252.0 589.7,284.0 612.1,308.0 620.3,316.0 639.1,332.0 653.6,350.0 658.0,354.8 662.0,358.2 668.0,362.2 688.0,372.5 698.0,378.3 698.0,381.3 686.0,374.4 666.0,364.0 657.8,358.0 652.0,351.9 638.0,334.3 618.8,318.0 608.6,308.0 585.8,284.0 558.4,252.0 545.5,240.0 528.0,226.9 514.0,217.6 490.0,204.7 446.0,179.6 422.0,165.5 413.9,160.0 404.0,151.7 372.0,122.7 348.1,100.0 324.0,81.6 295.0,58.0 293.1,56.0 286.5,46.0 282.9,42.0 278.3,38.0 272.0,34.1 266.0,31.5 212.0,13.5 198.0,6.6 186.7,0.0 188.0,0.0Z" fill="#af2675" stroke="#af2675"/>
<path d="M192.0,0.0 196.4,0.0 208.0,6.2 218.0,10.6 268.0,27.6 276.0,31.3 282.0,35.2 287.6,40.0 296.0,49.6 306.4,60.0 326.5,76.0 350.4,94.0 376.0,116.7 398.0,134.1 410.0,142.8 459.1,176.0 492.0,197.4 520.0,214.4 550.0,236.8 558.1,244.0 565.9,252.0 593.1,284.0 615.2,308.0 622.0,314.6 640.0,330.1 658.4,352.0 662.9,356.0 668.0,359.5 698.0,375.6 698.0,378.3 688.0,372.5 668.0,362.2 662.0,358.2 658.0,354.8 653.6,350.0 639.1,332.0 620.3,316.0 612.1,308.0 589.7,284.0 562.4,252.0 554.5,244.0 547.6,238.0 532.0,226.1 518.0,216.3 489.9,200.0 441.3,170.0 410.0,148.6 376.0,121.0 350.0,97.2 326.0,79.1 299.7,58.0 296.0,54.1 288.0,43.6 280.0,36.2 274.0,32.5 266.0,29.0 214.0,11.5 204.0,6.8 192.0,0.0Z" fill="#a81c8d" stroke="#a81c8d"/>
<path d="M198.0,0.0 201.1,0.0 212.0,5.6 222.0,9.8 269.1,26.0 276.0,29.1 280.9,32.0 288.5,38.0 310.7,60.0 352.1,92.0 376.0,112.7 392.0,125.2 406.0,135.1 441.3,158.0 489.5,192.0 520.0,211.3 542.0,227.4 555.2,238.0 565.7,248.0 596.5,284.0 612.6,302.0 622.4,312.0 640.7,328.0 660.0,350.4 664.1,354.0 670.0,357.9 698.0,373.0 698.0,375.6 668.9,360.0 660.0,353.6 654.7,348.0 639.9,330.0 620.0,312.8 605.8,298.0 591.3,282.0 562.1,248.0 552.0,238.5 540.0,229.0 518.0,213.1 493.0,198.0 459.1,176.0 400.0,135.6 376.0,116.7 350.4,94.0 326.5,76.0 306.4,60.0 296.0,49.6 287.6,40.0 280.0,33.7 274.0,30.2 268.0,27.6 244.0,19.8 216.0,9.8 202.0,3.1 196.4,0.0 198.0,0.0Z" fill="#a41c9f" stroke="#a41c9f"/>
<path d="M202.0,0.0 206.2,0.0 226.0,8.9 270.0,24.3 282.0,30.4 289.3,36.0 317.6,62.0 356.5,92.0 376.0,108.6 388.0,118.0 404.0,129.2 443.0,154.0 489.4,188.0 520.0,208.0 544.3,226.0 558.0,236.9 569.6,248.0 615.9,302.0 624.0,310.4 642.0,326.4 661.0,348.0 670.0,354.9 698.0,370.2 698.0,373.0 670.0,357.9 664.1,354.0 660.0,350.4 640.7,328.0 622.4,312.0 612.6,302.0 596.5,284.0 565.7,248.0 555.2,238.0 542.0,227.4 520.0,211.3 489.5,192.0 441.3,158.0 406.0,135.1 392.0,125.2 376.0,112.7 352.1,92.0 310.7,60.0 288.5,38.0 280.9,32.0 274.0,28.1 268.0,25.6 244.0,17.7 218.0,8.2 206.0,2.6 201.1,0.0 202.0,0.0Z" fill="#a027b9" stroke="#a027b9"/>
<path d="M208.0,0.0 211.6,0.0 232.0,8.7 270.0,22.2 278.0,25.8 284.0,29.4 304.4,46.0 324.8,64.0 334.0,70.8 342.3,78.0 363.3,94.0 388.0,114.0 404.0,125.0 431.5,142.0 446.7,152.0 495.2,188.0 522.0,206.2 548.7,226.0 562.0,236.7 573.7,248.0 584.3,260.0 619.1,302.0 627.0,310.0 642.5,324.0 662.0,345.7 666.0,349.1 672.0,353.1 698.0,367.3 698.0,370.2 671.8,356.0 662.0,349.0 642.0,326.4 624.0,310.4 615.9,302.0 569.6,248.0 559.3,238.0 546.0,227.2 520.0,208.0 489.4,188.0 445.9,156.0 404.0,129.2 388.0,118.0 376.0,108.6 356.5,92.0 317.6,62.0 289.3,36.0 282.0,30.4 276.0,26.9 269.3,24.0 244.0,15.4 220.0,6.5 206.2,0.0 208.0,0.0Z" fill="#9b26c5" stroke="#9b26c5"/>
<path d="M212.0,0.0 216.4,0.0 238.0,9.0 270.0,20.4 278.0,23.9 285.0,28.0 305.6,44.0 346.0,78.0 388.0,110.5 402.0,120.2 434.0,139.9 449.1,150.0 496.0,185.1 524.0,204.7 554.0,227.0 566.0,236.7 577.6,248.0 589.8,262.0 610.2,288.0 622.0,302.0 644.0,323.0 662.0,342.7 666.0,346.2 672.0,350.4 698.0,364.8 698.0,367.3 672.0,353.1 666.0,349.1 662.0,345.7 642.5,324.0 627.0,310.0 619.1,302.0 584.3,260.0 573.7,248.0 562.0,236.7 548.7,226.0 522.0,206.2 495.2,188.0 446.7,152.0 431.5,142.0 404.0,125.0 388.0,114.0 363.3,94.0 342.3,78.0 334.0,70.8 324.8,64.0 304.4,46.0 284.0,29.4 272.0,23.0 230.0,8.0 212.0,0.0Z" fill="#931dd3" stroke="#931dd3"/>
<path d="M218.0,0.0 221.4,0.0 242.0,8.4 270.0,18.5 278.0,22.1 286.0,26.7 309.2,44.0 334.0,64.0 348.0,76.5 388.0,107.0 402.0,116.7 433.2,136.0 451.2,148.0 499.2,184.0 524.0,201.6 562.4,230.0 574.0,239.9 583.6,250.0 594.0,262.4 611.8,286.0 623.1,300.0 645.5,322.0 662.0,339.7 666.8,344.0 672.5,348.0 698.0,362.3 698.0,364.8 672.0,350.4 666.0,346.2 662.0,342.7 644.0,323.0 622.0,302.0 610.2,288.0 589.8,262.0 577.6,248.0 567.4,238.0 555.3,228.0 524.0,204.7 496.0,185.1 449.1,150.0 434.0,139.9 402.0,120.2 388.0,110.5 346.0,78.0 305.6,44.0 285.0,28.0 278.1,24.0 272.0,21.2 232.0,6.6 216.4,0.0 218.0,0.0Z" fill="#8f1ddc" stroke="#8f1ddc"/>
<path d="M222.0,0.0 227.1,0.0 246.0,7.7 270.0,16.5 280.0,21.0 288.0,25.8 310.7,42.0 334.0,60.1 344.0,69.7 351.6,76.0 388.0,103.2 404.0,114.2 435.7,134.0 453.6,146.0 504.0,183.8 546.0,214.3 568.6,230.0 577.8,238.0 586.0,247.0 598.0,261.9 619.8,292.0 632.0,306.0 666.0,340.1 674.2,346.0 698.0,359.4 698.0,362.3 672.5,348.0 666.8,344.0 662.0,339.7 645.5,322.0 623.1,300.0 611.8,286.0 594.0,262.4 583.6,250.0 574.0,239.9 562.4,230.0 524.0,201.6 499.2,184.0 451.2,148.0 433.2,136.0 402.0,116.7 388.0,107.0 348.0,76.5 334.0,64.0 309.2,44.0 286.0,26.7 280.0,23.1 272.0,19.4 240.9,8.0 222.0,0.0Z" fill="#8d25eb" stroke="#8d25eb"/>
<path d="M228.0,0.0 232.9,0.0 270.0,14.5 280.0,19.0 288.6,24.0 309.4,38.0 334.0,56.4 352.0,72.9 384.0,96.7 404.0,110.5 452.9,142.0 506.0,181.6 542.0,207.6 574.0,228.9 582.0,236.1 590.0,245.5 600.9,260.0 621.5,290.0 633.3,304.0 666.0,336.8 676.0,344.0 698.0,356.5 698.0,359.4 674.0,345.9 668.0,341.7 662.0,336.4 624.6,298.0 615.2,286.0 592.0,254.2 579.8,240.0 568.6,230.0 546.0,214.3 504.0,183.8 453.6,146.0 435.7,134.0 404.0,114.2 388.0,103.2 351.6,76.0 344.0,69.7 334.0,60.1 310.7,42.0 288.0,25.8 281.8,22.0 274.0,18.2 241.7,6.0 228.0,0.0Z" fill="#8922f3" stroke="#8922f3"/>
<path d="M234.0,0.0 238.2,0.0 276.0,15.1 286.0,20.3 307.5,34.0 334.0,52.9 352.5,70.0 384.0,93.4 404.0,107.1 454.6,140.0 508.0,179.8 542.0,204.0 577.3,226.0 584.0,232.0 590.0,239.1 604.0,258.8 623.0,288.0 634.5,302.0 666.0,333.8 676.0,341.1 698.0,353.8 698.0,356.5 676.0,344.0 668.0,338.5 660.0,331.2 633.3,304.0 621.5,290.0 600.9,260.0 590.0,245.5 582.0,236.1 574.0,228.9 542.0,207.6 506.0,181.6 452.9,142.0 404.0,110.5 382.0,95.2 350.9,72.0 334.0,56.4 303.7,34.0 286.0,22.3 278.0,18.0 240.0,3.0 232.9,0.0 234.0,0.0Z" fill="#8011fa" stroke="#8011fa"/>
<path d="M240.0,0.0 243.6,0.0 278.0,14.1 286.0,18.3 311.5,34.0 334.0,49.6 348.0,62.7 356.0,69.5 388.0,93.0 456.3,138.0 512.0,179.4 540.0,199.1 552.0,206.8 572.8,218.0 580.0,222.7 586.0,228.1 592.0,235.4 606.0,256.2 623.3,284.0 629.0,292.0 635.7,300.0 652.0,317.3 666.0,330.8 676.0,338.2 698.0,351.0 698.0,353.8 677.4,342.0 668.0,335.5 660.0,328.2 636.3,304.0 629.2,296.0 623.0,288.0 604.0,258.8 590.0,239.1 584.0,232.0 577.3,226.0 542.0,204.0 508.0,179.8 454.6,140.0 404.0,107.1 384.0,93.4 352.5,70.0 334.0,52.9 307.5,34.0 280.0,17.0 270.0,12.5 238.2,0.0 240.0,0.0Z" fill="#7f10fa" stroke="#7f10fa"/>
<path d="M244.0,0.0 249.2,0.0 276.0,11.1 286.0,16.2 312.6,32.0 334.0,46.3 354.0,64.4 378.0,82.5 402.0,99.2 434.0,119.8 458.0,136.0 528.0,187.3 550.0,201.6 574.4,214.0 582.0,218.8 588.0,224.1 594.0,231.5 608.0,253.4 625.0,282.0 630.7,290.0 638.8,300.0 652.0,314.3 666.0,327.6 677.5,336.0 698.0,348.1 698.0,351.0 678.0,339.4 668.0,332.4 656.0,321.3 637.5,302.0 624.6,286.0 606.0,256.2 592.0,235.4 586.0,228.1 580.0,222.7 572.8,218.0 552.0,206.8 540.0,199.1 512.0,179.4 456.3,138.0 388.0,93.0 356.0,69.5 348.0,62.7 334.0,49.6 311.5,34.0 280.0,15.1 244.0,0.0Z" fill="#831ef8" stroke="#831ef8"/>
<path d="M250.0,0.0 254.7,0.0 278.0,10.0 307.1,26.0 320.1,34.0 334.0,43.1 356.0,62.6 378.0,79.2 404.0,97.3 436.2,118.0 459.8,134.0 528.0,183.9 548.0,196.7 558.0,201.9 576.0,210.3 585.1,216.0 590.0,220.5 596.0,228.0 628.0,281.9 635.3,292.0 645.4,304.0 656.0,315.3 666.0,324.5 678.0,333.2 698.0,345.2 698.0,348.1 680.0,337.6 670.0,330.8 660.0,322.2 646.0,308.0 635.4,296.0 626.4,284.0 608.0,253.4 594.0,231.5 588.0,224.1 582.0,218.8 574.4,214.0 550.0,201.6 528.0,187.3 458.0,136.0 434.0,119.8 402.0,99.2 378.0,82.5 354.0,64.4 334.0,46.3 315.7,34.0 282.0,14.1 250.0,0.0Z" fill="#811ef4" stroke="#811ef4"/>
<path d="M256.0,0.0 260.1,0.0 282.0,9.9 296.0,18.0 311.5,26.0 334.0,40.0 356.0,59.2 376.0,74.5 404.0,94.1 460.0,130.9 528.0,180.5 548.0,193.0 558.0,198.1 576.1,206.0 586.0,212.0 592.0,217.4 598.0,225.0 628.5,278.0 636.9,290.0 646.5,302.0 656.0,312.3 666.0,321.4 678.0,330.1 698.0,342.2 698.0,345.2 680.0,334.5 670.0,327.7 658.0,317.3 647.1,306.0 636.9,294.0 628.1,282.0 596.0,228.0 590.0,220.5 585.1,216.0 576.0,210.3 558.0,201.9 548.0,196.7 526.0,182.5 459.8,134.0 436.2,118.0 402.0,96.0 374.0,76.3 355.3,62.0 334.0,43.1 310.5,28.0 285.7,14.0 274.0,8.1 254.7,0.0 256.0,0.0Z" fill="#7610ed" stroke="#7610ed"/>
<path d="M262.0,0.0 265.3,0.0 282.0,7.8 296.0,15.7 312.4,24.0 334.0,37.0 358.0,57.5 378.0,72.7 408.0,93.6 460.4,128.0 528.0,177.2 548.0,189.5 558.0,194.3 578.0,202.9 588.0,209.1 594.0,214.6 600.0,222.4 630.0,275.7 638.4,288.0 648.0,300.3 662.0,315.4 678.0,327.0 698.0,339.2 698.0,342.2 680.0,331.4 670.0,324.6 658.0,314.2 648.0,303.7 636.9,290.0 628.5,278.0 598.0,225.0 592.0,217.4 586.0,212.0 576.1,206.0 558.0,198.1 548.0,193.0 528.0,180.5 460.0,130.9 404.0,94.1 376.0,74.5 356.0,59.2 334.0,40.0 307.9,24.0 296.0,18.0 280.0,8.9 260.1,0.0 262.0,0.0Z" fill="#720ee5" stroke="#720ee5"/>
<path d="M266.0,0.0 270.2,0.0 280.0,4.6 296.0,13.5 313.4,22.0 334.0,34.1 360.0,55.9 380.0,71.0 408.0,90.5 467.7,130.0 528.0,173.9 548.0,186.0 558.0,190.7 578.0,199.1 584.0,202.3 590.0,206.5 596.0,212.2 602.0,220.2 631.8,274.0 639.9,286.0 650.0,299.3 660.0,309.9 660.6,312.0 662.1,314.0 664.0,315.2 667.0,316.0 678.0,323.9 698.0,336.2 698.0,339.2 678.0,327.0 662.0,315.4 649.4,302.0 638.4,288.0 630.2,276.0 600.0,222.4 594.0,214.6 588.0,209.1 578.0,202.9 558.0,194.3 548.0,189.5 528.0,177.2 460.4,128.0 408.0,93.6 378.0,72.7 358.0,57.5 334.0,37.0 308.8,22.0 296.0,15.7 282.0,7.8 266.0,0.0Z" fill="#741bd8" stroke="#741bd8"/>
<path d="M272.0,0.0 274.9,0.0 280.0,2.5 296.0,11.3 314.3,20.0 334.0,31.3 360.0,52.8 382.0,69.3 410.0,88.7 474.0,131.4 528.0,170.6 548.0,182.6 578.0,195.3 584.0,198.5 590.0,202.5 596.2,208.0 602.5,216.0 633.4,272.0 648.7,294.0 660.0,306.8 662.0,312.4 664.0,314.2 670.0,315.2 680.0,322.2 698.0,333.2 698.0,336.2 678.0,323.9 667.0,316.0 664.0,315.2 662.0,313.9 660.0,309.9 649.0,298.0 635.7,280.0 629.5,270.0 602.0,220.2 596.0,212.2 590.0,206.5 580.0,200.0 552.0,188.0 542.0,182.7 532.0,176.5 516.0,165.5 464.8,128.0 410.0,91.8 380.0,71.0 360.0,55.9 334.0,34.1 310.0,20.2 296.0,13.5 284.0,6.7 270.2,0.0 272.0,0.0Z" fill="#701acd" stroke="#701acd"/>
<path d="M276.0,0.0 279.1,0.0 294.0,8.2 315.0,18.0 334.0,28.6 362.0,51.4 382.0,66.4 410.0,85.8 474.0,128.6 530.0,168.9 540.0,175.1 550.0,180.4 580.0,192.9 586.0,196.2 592.0,200.4 599.7,208.0 605.4,216.0 633.6,268.0 649.8,292.0 660.3,304.0 661.4,306.0 662.9,312.0 664.0,313.0 666.0,313.8 668.0,313.5 670.0,312.3 680.0,319.2 698.0,330.4 698.0,333.2 680.0,322.2 670.0,315.2 664.0,314.2 662.0,312.4 660.0,306.8 648.7,294.0 633.4,272.0 602.5,216.0 596.2,208.0 590.0,202.5 584.0,198.5 578.0,195.3 548.0,182.6 532.0,173.3 516.0,162.2 474.0,131.4 410.0,88.7 382.0,69.3 360.0,52.8 334.0,31.3 314.3,20.0 294.0,10.3 274.9,0.0 276.0,0.0Z" fill="#640ebd" stroke="#640ebd"/>
<path d="M280.0,0.0 283.1,0.0 296.0,7.1 315.6,16.0 334.0,26.1 362.0,48.6 384.0,64.9 412.0,84.3 474.0,125.8 520.0,158.9 534.0,168.4 552.0,178.2 580.0,189.5 586.0,192.8 592.0,196.9 600.0,204.5 606.0,212.5 637.5,270.0 652.0,291.3 662.0,302.6 663.0,310.0 664.0,311.8 666.0,312.8 668.0,312.4 670.0,309.4 680.0,316.3 698.0,327.6 698.0,330.4 680.0,319.2 670.0,312.3 668.0,313.5 666.0,313.8 664.0,313.0 662.9,312.0 661.4,306.0 660.3,304.0 649.8,292.0 633.6,268.0 605.4,216.0 599.7,208.0 592.0,200.4 586.0,196.2 580.0,192.9 550.0,180.4 532.0,170.2 474.0,128.6 412.0,87.2 384.0,67.8 362.0,51.4 334.0,28.6 312.0,16.5 294.0,8.2 279.1,0.0 280.0,0.0Z" fill="#600eb3" stroke="#600eb3"/>
<path d="M284.0,0.0 287.0,0.0 296.0,5.0 316.0,13.9 334.0,23.5 364.0,47.3 386.0,63.5 474.0,123.0 534.0,165.3 544.0,171.1 552.0,175.1 580.0,186.3 586.8,190.0 592.6,194.0 601.1,202.0 608.0,211.5 634.0,260.0 638.8,268.0 652.1,288.0 662.3,300.0 663.4,304.0 664.0,310.0 666.0,311.9 668.0,311.2 670.0,306.4 680.0,313.4 698.0,324.7 698.0,327.6 680.0,316.3 670.0,309.4 668.0,312.4 666.0,312.8 664.0,311.8 663.0,310.0 662.0,302.6 652.0,291.3 637.5,270.0 606.0,212.5 600.0,204.5 592.0,196.9 586.0,192.8 580.0,189.5 550.0,177.3 532.0,167.1 474.0,125.8 412.0,84.3 384.0,64.9 362.0,48.6 334.0,26.1 312.0,14.2 294.0,6.1 283.1,0.0 284.0,0.0Z" fill="#621ba5" stroke="#621ba5"/>
<path d="M288.0,0.0 290.8,0.0 296.0,2.8 310.0,8.7 334.0,21.0 364.0,44.6 386.0,60.7 472.0,118.8 534.0,162.2 544.0,168.0 552.0,172.0 581.6,184.0 588.0,187.6 594.4,192.0 602.0,199.4 608.0,207.4 640.0,265.9 653.3,286.0 663.5,298.0 664.2,300.0 665.0,310.0 666.0,310.9 667.7,310.0 667.4,304.0 668.0,301.8 678.0,309.2 698.0,321.9 698.0,324.7 680.0,313.4 670.0,306.4 668.0,311.2 666.0,311.9 664.0,310.0 663.4,304.0 662.3,300.0 652.1,288.0 638.8,268.0 634.0,260.0 608.0,211.5 601.1,202.0 592.6,194.0 586.8,190.0 580.0,186.3 552.0,175.1 544.0,171.1 534.0,165.3 474.0,123.0 386.0,63.5 364.0,47.3 334.0,23.5 312.2,12.0 294.0,4.0 287.0,0.0 288.0,0.0Z" fill="#5e1a98" stroke="#5e1a98"/>
<path d="M292.0,0.0 294.6,0.0 298.0,1.1 308.0,5.2 324.0,12.9 336.0,19.6 362.0,40.3 388.9,60.0 474.0,117.2 530.0,156.5 540.0,162.7 550.1,168.0 574.0,177.3 582.0,181.0 590.0,185.5 598.0,191.6 607.1,202.0 611.1,208.0 636.0,255.0 644.0,268.3 656.0,286.0 666.8,298.0 678.0,306.3 698.0,318.9 698.0,321.9 678.0,309.2 668.0,301.8 667.4,304.0 667.7,310.0 666.0,310.9 665.0,310.0 664.2,300.0 663.5,298.0 653.3,286.0 640.0,265.9 608.0,207.4 602.0,199.4 594.4,192.0 588.0,187.6 581.6,184.0 552.0,172.0 544.0,168.0 534.0,162.2 472.0,118.8 386.0,60.7 364.0,44.6 335.5,22.0 314.0,10.6 294.0,1.9 290.8,0.0 292.0,0.0ZM665.7,300.0 666.0,309.4 666.4,308.0 666.2,302.0 666.7,300.0 666.0,298.8 665.7,300.0Z" fill="#500e7e" stroke="#500e7e"/>
<path d="M296.0,0.0 698.0,0.0 698.0,318.9 678.0,306.3 666.8,298.0 656.0,286.0 644.0,268.3 636.0,255.0 611.1,208.0 607.1,202.0 598.0,191.6 590.0,185.5 582.0,181.0 574.0,177.3 552.0,168.9 535.4,160.0 518.0,148.3 474.0,117.2 388.9,60.0 362.0,40.3 336.0,19.6 316.0,8.9 308.0,5.2 296.0,0.7 294.6,0.0 296.0,0.0ZM666.0,298.8 666.7,300.0 666.2,302.0 666.4,308.0 666.0,309.4 666.0,298.8Z" fill="#480c6c" stroke="#480c6c"/>
<mask id="txm" maskUnits="userSpaceOnUse" x="100" y="0" width="600" height="540">
<path d="M156.0,0.0 187.5,0.0 184.3,10.0 183.8,16.0 186.0,24.0 191.1,32.0 191.5,34.0 190.0,42.0 190.2,46.0 191.7,50.0 195.7,56.0 198.0,58.6 202.0,61.0 208.0,61.3 212.0,59.7 214.2,58.0 216.9,54.0 218.7,44.0 222.0,42.8 226.0,43.3 250.0,51.7 276.0,64.1 282.0,66.3 286.0,66.3 298.0,64.4 312.0,65.0 340.0,68.9 376.0,75.8 424.0,92.4 452.0,103.2 460.0,107.6 512.1,148.0 530.1,160.0 554.0,173.3 584.0,194.6 592.2,202.0 598.8,210.0 606.8,222.0 644.9,290.0 648.6,298.0 651.7,312.0 653.3,316.0 658.0,321.5 662.7,324.0 668.0,324.9 674.0,323.8 679.9,320.0 682.9,316.0 684.8,310.0 685.1,304.0 684.6,294.0 682.8,286.0 676.9,272.0 652.8,226.0 638.4,196.0 627.9,180.0 615.1,166.0 606.0,158.9 574.0,137.1 550.0,125.3 534.0,115.5 493.1,84.0 474.0,71.6 466.0,68.1 446.0,61.4 428.0,54.0 414.0,50.2 390.0,41.4 350.0,31.6 326.3,24.0 313.9,18.0 305.0,12.0 298.7,6.0 295.5,0.0 343.9,0.0 345.0,2.0 349.8,6.0 364.0,13.5 394.0,25.5 418.0,36.6 432.0,41.3 452.0,50.7 478.8,60.0 488.0,65.1 500.0,73.2 540.2,104.0 556.0,113.5 574.0,121.5 582.1,126.0 616.0,149.0 628.0,159.1 640.0,173.4 650.3,190.0 664.1,220.0 688.5,268.0 698.0,289.8 698.0,310.6 691.2,322.0 686.0,327.3 680.0,330.9 674.0,332.6 666.0,332.6 660.0,331.0 656.0,328.9 652.0,325.8 648.0,320.9 644.8,314.0 641.5,300.0 638.0,292.7 600.0,226.3 593.1,216.0 586.0,207.4 578.0,200.4 550.0,180.4 526.0,166.8 509.9,156.0 466.8,122.0 456.0,114.3 448.0,110.3 422.0,101.1 380.0,88.0 366.0,85.1 346.0,83.2 322.0,83.0 312.0,84.7 306.0,86.8 302.0,89.8 300.9,92.0 300.1,98.0 300.6,104.0 304.9,114.0 316.9,130.0 333.1,148.0 359.1,174.0 400.0,212.3 447.1,258.0 460.0,268.9 492.0,293.0 518.0,318.5 528.8,332.0 564.7,384.0 577.4,404.0 590.0,418.8 602.0,434.9 614.0,449.3 635.2,472.0 672.0,497.8 682.2,508.0 686.3,514.0 690.4,522.0 693.3,530.0 694.9,538.0 681.5,538.0 680.7,530.0 678.3,522.0 674.2,514.0 670.0,508.6 662.7,502.0 630.1,478.0 615.3,462.0 597.3,440.0 584.3,422.0 572.5,408.0 560.0,387.9 522.1,334.0 508.0,317.8 486.0,297.3 444.0,264.8 396.0,220.8 329.3,162.0 304.8,138.0 280.0,108.8 254.0,91.2 218.0,78.0 206.4,72.0 198.5,66.0 184.0,51.4 178.4,44.0 158.0,10.0 154.5,2.0 154.1,0.0 156.0,0.0ZM102.0,55.4 130.0,63.2 151.3,72.0 171.6,84.0 177.5,90.0 181.2,96.0 186.1,108.0 213.0,192.0 222.3,218.0 266.0,363.8 274.0,387.8 278.0,396.3 280.0,396.4 282.0,390.6 291.5,320.0 294.9,304.0 299.3,292.0 304.9,284.0 308.0,281.8 312.0,280.4 320.0,280.7 332.0,284.8 366.0,305.1 393.2,326.0 428.0,351.1 459.1,370.0 468.0,377.4 491.8,404.0 505.8,422.0 516.1,442.0 530.0,461.7 558.0,514.2 570.4,534.0 572.0,538.0 551.5,538.0 549.3,532.0 517.9,470.0 504.2,450.0 494.1,430.0 478.2,410.0 458.0,388.9 452.0,384.3 444.0,380.5 414.0,370.8 398.0,364.7 384.0,361.0 372.0,359.9 364.0,360.7 358.0,362.6 352.0,365.9 348.0,369.3 339.9,380.0 332.7,396.0 325.5,422.0 316.0,472.0 311.3,508.0 309.1,538.0 100.0,538.0 100.0,55.2 102.0,55.4Z" fill="#242424" stroke="#242424" stroke-width="0.6"/>
<path d="M344.0,0.0 394.5,0.0 397.9,4.0 418.0,17.0 436.0,25.6 454.0,35.8 462.0,39.0 482.0,44.5 496.0,51.4 516.0,64.9 551.7,92.0 564.0,99.1 580.9,106.0 590.0,110.7 632.9,140.0 646.8,154.0 659.4,172.0 666.9,186.0 678.1,212.0 690.0,235.9 694.0,243.3 698.0,247.8 698.0,289.8 688.5,268.0 664.1,220.0 649.2,188.0 636.0,168.1 628.9,160.0 622.0,153.6 582.0,126.0 574.0,121.5 556.0,113.5 542.0,105.2 502.0,74.6 482.7,62.0 474.0,57.9 452.0,50.7 432.0,41.3 418.0,36.6 394.0,25.5 364.0,13.5 349.8,6.0 345.0,2.0 344.0,0.0ZM316.0,83.8 326.0,82.7 340.0,82.8 360.0,84.4 374.0,86.5 422.0,101.1 447.3,110.0 455.4,114.0 466.8,122.0 508.0,154.6 526.0,166.8 550.0,180.4 578.0,200.4 586.5,208.0 593.1,216.0 600.0,226.3 636.5,290.0 641.5,300.0 646.4,318.0 650.0,323.7 654.0,327.5 660.0,331.0 666.0,332.6 674.0,332.6 680.0,330.9 685.1,328.0 689.6,324.0 698.0,310.6 698.0,332.9 688.0,337.6 678.0,340.6 668.0,340.8 658.0,338.0 650.0,333.1 644.9,328.0 640.8,322.0 638.3,316.0 634.6,302.0 629.4,292.0 594.0,231.4 587.7,222.0 581.2,214.0 574.0,207.4 546.0,187.2 524.0,174.6 508.0,163.9 464.0,129.2 450.0,120.1 442.0,116.8 418.0,109.3 382.0,99.9 366.0,97.2 348.0,97.0 332.0,98.8 328.6,100.0 325.9,102.0 324.3,106.0 324.1,110.0 324.5,116.0 325.6,120.0 330.4,128.0 342.3,142.0 370.5,172.0 404.0,204.7 452.5,254.0 462.0,262.1 496.7,288.0 522.6,314.0 535.0,330.0 581.8,400.0 595.6,416.0 608.1,432.0 624.0,449.8 642.0,467.4 679.5,492.0 686.7,498.0 694.0,505.5 698.0,508.3 698.0,538.0 694.9,538.0 693.3,530.0 689.5,520.0 685.1,512.0 678.8,504.0 670.0,496.3 634.0,470.9 622.0,458.3 604.5,438.0 591.0,420.0 576.0,402.1 566.0,385.9 528.8,332.0 516.0,316.3 492.0,293.0 458.8,268.0 444.0,255.1 400.0,212.3 359.1,174.0 333.1,148.0 316.9,130.0 303.7,112.0 301.0,106.0 300.1,100.0 300.4,94.0 302.0,89.8 307.8,86.0 316.0,83.8ZM370.0,360.0 380.0,360.4 392.0,362.8 414.0,370.8 438.0,378.3 451.4,384.0 460.0,390.8 479.9,412.0 494.1,430.0 504.2,450.0 517.9,470.0 549.3,532.0 551.5,538.0 528.6,538.0 526.0,530.0 502.3,480.0 488.9,460.0 480.2,442.0 476.0,435.4 464.0,421.3 456.0,414.6 436.0,404.0 430.0,402.6 424.0,402.3 414.0,403.2 406.0,405.1 398.0,408.1 390.7,412.0 384.0,416.9 378.0,422.5 372.0,429.7 366.5,438.0 356.9,458.0 349.9,480.0 344.2,512.0 341.9,538.0 309.1,538.0 311.3,508.0 316.0,472.0 325.5,422.0 332.0,397.9 339.9,380.0 348.0,369.3 352.0,365.9 358.0,362.6 364.0,360.7 370.0,360.0Z" fill="#424242" stroke="#424242" stroke-width="0.6"/>
<path d="M396.0,0.0 433.8,0.0 437.5,4.0 460.0,19.1 486.0,25.0 500.0,30.2 512.0,36.9 524.0,44.8 563.1,74.0 574.0,80.1 592.0,86.9 602.0,91.8 638.0,115.4 648.0,122.8 661.2,136.0 673.0,152.0 683.1,170.0 694.0,194.5 696.0,198.3 698.0,200.3 698.0,247.8 694.0,243.3 690.0,235.9 678.1,212.0 666.9,186.0 659.4,172.0 646.8,154.0 632.9,140.0 590.0,110.7 580.9,106.0 564.0,99.1 551.7,92.0 516.0,64.9 496.0,51.4 482.0,44.5 458.0,37.6 436.0,25.6 423.2,20.0 397.9,4.0 394.5,0.0 396.0,0.0ZM338.0,97.7 362.0,97.0 380.0,99.4 418.0,109.3 442.0,116.8 450.0,120.1 458.0,124.9 506.0,162.5 523.0,174.0 546.0,187.2 574.0,207.4 581.2,214.0 587.7,222.0 594.0,231.4 630.6,294.0 634.6,302.0 639.8,320.0 643.3,326.0 648.7,332.0 654.0,335.9 660.0,338.8 666.0,340.5 672.0,341.1 678.0,340.6 684.0,339.2 698.0,332.9 698.0,345.7 682.0,349.2 672.0,349.4 662.0,347.5 654.0,344.1 646.0,338.7 640.0,332.6 635.4,326.0 631.8,318.0 627.7,304.0 624.7,298.0 588.0,236.5 575.8,220.0 568.0,212.9 541.8,194.0 520.0,181.3 504.0,170.4 464.0,138.8 454.0,131.9 442.0,125.8 418.0,119.1 386.0,112.3 372.0,110.2 360.0,110.1 352.0,112.0 349.6,114.0 348.6,116.0 348.0,122.0 348.7,130.0 352.7,138.0 364.1,152.0 380.5,170.0 408.0,197.7 455.4,248.0 464.0,255.4 502.6,284.0 527.6,310.0 539.8,326.0 586.2,396.0 620.0,435.3 638.0,453.4 648.0,462.0 684.0,483.7 694.0,490.6 698.0,492.4 698.0,508.3 694.0,505.5 680.0,492.4 644.0,468.9 632.0,458.2 610.0,434.3 595.6,416.0 581.8,400.0 534.0,328.6 520.0,311.1 496.7,288.0 462.0,262.1 450.4,252.0 404.0,204.7 372.5,174.0 336.9,136.0 329.0,126.0 325.6,120.0 324.2,114.0 324.1,108.0 324.8,104.0 328.0,100.4 338.0,97.7ZM412.0,403.6 426.0,402.3 436.0,404.0 456.0,414.6 462.0,419.3 468.3,426.0 478.0,438.2 488.9,460.0 502.3,480.0 526.0,530.0 528.6,538.0 500.9,538.0 499.2,532.0 482.4,494.0 469.4,474.0 460.0,456.3 456.0,452.0 452.0,450.0 446.0,448.4 438.0,447.6 428.0,448.7 418.0,452.9 408.0,460.8 400.0,470.9 393.9,482.0 388.5,496.0 380.7,538.0 341.9,538.0 343.9,514.0 348.9,484.0 354.7,464.0 363.2,444.0 373.3,428.0 384.0,416.9 390.7,412.0 398.0,408.1 412.0,403.6Z" fill="#616161" stroke="#616161" stroke-width="0.6"/>
<path d="M434.0,0.0 502.7,0.0 505.2,2.0 524.0,11.4 538.0,19.9 580.0,50.5 590.0,55.6 608.0,61.5 618.1,66.0 664.0,96.0 677.5,108.0 694.0,128.4 698.0,131.6 698.0,200.3 696.0,198.3 694.0,194.5 681.1,166.0 671.7,150.0 658.0,132.3 644.0,119.7 602.0,91.8 592.0,86.9 574.0,80.1 563.1,74.0 528.0,47.6 508.0,34.5 498.0,29.3 490.0,26.2 460.0,19.1 437.5,4.0 434.0,0.0ZM362.0,110.0 370.0,110.1 380.0,111.3 418.0,119.1 444.0,126.6 460.0,135.8 504.0,170.4 520.0,181.3 541.8,194.0 568.0,212.9 575.8,220.0 588.0,236.5 623.5,296.0 627.7,304.0 631.8,318.0 634.3,324.0 639.5,332.0 645.2,338.0 656.0,345.2 668.0,348.9 682.0,349.2 698.0,345.7 698.0,357.4 682.0,358.7 670.0,357.7 660.0,355.0 652.0,351.4 644.0,346.0 636.0,338.2 630.0,330.0 626.0,322.0 621.4,308.0 617.6,300.0 582.0,241.7 570.0,225.5 562.0,218.4 536.6,200.0 516.0,187.9 502.0,178.4 458.0,144.1 444.0,136.3 436.0,133.3 412.0,127.9 386.0,124.3 378.0,124.4 374.1,126.0 372.3,130.0 372.0,136.0 373.3,146.0 376.4,152.0 380.9,158.0 412.0,191.1 452.2,236.0 465.2,248.0 494.0,268.6 508.0,279.5 532.0,305.2 546.0,324.0 564.9,354.0 590.5,392.0 618.0,423.2 634.0,439.2 652.0,455.0 680.0,470.9 694.0,478.3 698.0,479.6 698.0,492.4 694.0,490.6 684.0,483.7 648.0,462.0 640.0,455.3 626.0,441.5 613.3,428.0 586.2,396.0 539.8,326.0 524.0,305.9 502.0,283.5 464.0,255.4 455.4,248.0 365.8,154.0 351.4,136.0 349.4,132.0 348.1,126.0 348.2,118.0 349.6,114.0 354.0,111.2 362.0,110.0ZM432.0,448.0 440.0,447.7 450.0,449.4 456.0,452.0 459.8,456.0 469.4,474.0 482.4,494.0 499.2,532.0 500.9,538.0 464.0,538.0 462.9,534.0 460.0,529.1 458.0,527.2 454.0,526.2 450.0,527.4 445.6,530.0 441.6,534.0 439.7,538.0 380.7,538.0 388.0,498.0 392.1,486.0 398.0,474.1 405.1,464.0 413.3,456.0 422.0,450.8 432.0,448.0Z" fill="#808080" stroke="#808080" stroke-width="0.6"/>
<path d="M504.0,0.0 584.7,0.0 585.7,2.0 589.8,6.0 604.0,16.6 612.0,20.0 632.0,25.8 644.0,30.7 680.0,52.9 694.0,62.5 698.0,64.2 698.0,131.6 694.0,128.4 684.0,115.4 675.5,106.0 666.6,98.0 656.0,90.2 618.0,66.0 608.0,61.5 590.0,55.6 580.0,50.5 540.0,21.3 524.0,11.4 505.2,2.0 502.7,0.0 504.0,0.0ZM376.0,124.9 380.0,124.1 386.0,124.3 412.0,127.9 436.0,133.3 444.0,136.3 462.0,146.8 488.0,167.8 508.0,182.6 539.4,202.0 566.0,221.6 576.8,234.0 618.7,302.0 621.4,308.0 626.0,322.0 630.0,330.0 639.5,342.0 646.0,347.5 652.0,351.4 664.0,356.3 680.0,358.7 698.0,357.4 698.0,369.1 682.0,368.6 670.0,366.5 658.0,362.6 648.0,357.7 640.0,351.8 632.0,343.8 624.7,334.0 619.4,324.0 614.0,308.8 610.5,302.0 575.5,246.0 564.0,230.9 558.0,225.4 532.0,206.5 512.0,194.6 499.5,186.0 460.0,155.1 448.0,148.4 436.0,143.1 410.0,138.3 402.0,138.5 398.2,140.0 396.3,144.0 396.0,150.0 397.0,160.0 401.4,168.0 454.9,230.0 468.0,241.9 496.5,262.0 512.2,274.0 536.0,300.0 549.5,318.0 573.1,356.0 594.0,386.7 600.0,394.0 628.0,423.6 656.0,447.7 664.0,452.7 684.0,462.7 694.0,467.2 698.0,468.2 698.0,479.6 694.0,478.3 680.0,470.9 652.0,455.0 634.0,439.2 618.0,423.2 590.5,392.0 564.9,354.0 544.6,322.0 528.0,300.6 506.2,278.0 468.0,250.2 458.0,241.9 380.9,158.0 375.2,150.0 372.3,142.0 372.3,130.0 374.0,126.1 376.0,124.9ZM450.0,527.4 454.0,526.2 458.0,527.2 462.0,532.1 464.0,538.0 439.7,538.0 443.3,532.0 450.0,527.4Z" fill="#9e9e9e" stroke="#9e9e9e" stroke-width="0.6"/>
<path d="M586.0,0.0 698.0,0.0 698.0,64.2 694.0,62.5 680.0,52.9 644.0,30.7 632.0,25.8 612.0,20.0 604.0,16.6 587.6,4.0 584.7,0.0 586.0,0.0ZM400.0,139.1 404.0,138.2 410.0,138.3 432.0,142.0 440.0,144.6 454.0,151.5 464.0,158.0 502.0,187.8 532.0,206.5 558.0,225.4 564.0,230.9 571.3,240.0 593.2,274.0 612.7,306.0 618.6,322.0 623.4,332.0 628.0,338.9 634.0,346.0 646.0,356.4 654.0,360.9 662.0,364.1 680.0,368.4 698.0,369.1 698.0,380.8 690.0,380.2 678.0,378.1 664.0,373.8 652.0,368.4 641.3,362.0 630.3,352.0 620.6,340.0 613.7,328.0 606.6,310.0 603.3,304.0 568.0,249.0 561.3,240.0 555.7,234.0 528.0,213.4 498.0,194.4 464.0,167.7 456.0,162.5 436.0,153.7 430.0,152.3 426.0,152.2 422.0,153.7 420.6,156.0 420.0,164.0 420.7,174.0 425.2,184.0 435.3,198.0 456.0,222.5 462.0,228.5 471.2,236.0 502.0,257.5 518.0,269.9 541.1,296.0 559.6,322.0 581.4,358.0 598.0,382.1 604.0,389.5 632.0,417.8 658.0,438.9 672.0,447.2 692.0,456.0 698.0,457.6 698.0,468.2 690.0,465.6 670.0,455.8 660.0,450.4 654.0,446.2 628.0,423.6 598.2,392.0 571.8,354.0 548.1,316.0 530.0,293.0 512.0,273.9 496.5,262.0 470.0,243.4 458.7,234.0 402.9,170.0 397.8,162.0 396.2,156.0 396.3,144.0 398.0,140.2 400.0,139.1Z" fill="#bdbdbd" stroke="#bdbdbd" stroke-width="0.6"/>
<path d="M422.0,153.7 426.0,152.2 434.0,153.1 446.0,157.7 458.0,163.6 498.0,194.4 528.0,213.4 554.0,232.5 559.6,238.0 565.9,246.0 586.0,276.4 605.6,308.0 612.8,326.0 618.0,335.9 624.0,344.6 632.0,353.8 644.0,363.8 662.0,373.0 680.0,378.6 698.0,380.8 698.0,392.6 688.0,391.2 674.0,387.4 662.0,382.5 648.0,375.3 636.0,367.4 626.0,357.9 614.9,344.0 606.8,330.0 600.0,313.6 596.0,306.4 562.0,254.6 550.1,240.0 523.3,220.0 496.0,202.7 464.0,177.7 458.0,173.9 450.0,171.4 446.0,172.1 444.3,176.0 444.0,184.0 444.4,192.0 446.2,198.0 452.2,208.0 460.0,217.5 477.4,232.0 504.0,250.2 522.2,264.0 528.3,270.0 543.4,288.0 561.0,312.0 586.0,353.9 608.0,384.5 636.0,411.6 657.3,428.0 674.0,438.4 692.0,445.6 698.0,447.1 698.0,457.6 692.0,456.0 672.0,447.2 658.0,438.9 632.0,417.8 602.6,388.0 578.7,354.0 560.9,324.0 550.2,308.0 541.1,296.0 524.0,276.0 513.1,266.0 476.0,239.6 462.0,228.5 452.1,218.0 432.2,194.0 424.0,182.0 420.7,174.0 420.1,160.0 420.6,156.0 422.0,153.7Z" fill="#dbdbdb" stroke="#dbdbdb" stroke-width="0.6"/>
<path d="M448.0,171.4 454.0,172.2 462.0,176.3 494.0,201.2 524.0,220.5 552.1,242.0 562.0,254.6 596.0,306.4 600.0,313.6 606.8,330.0 613.6,342.0 622.6,354.0 634.0,365.8 648.0,375.3 666.0,384.3 682.0,389.8 698.0,392.6 698.0,447.1 692.0,445.6 674.0,438.4 657.3,428.0 636.0,411.6 608.0,384.5 586.0,353.9 567.4,322.0 556.9,306.0 546.6,292.0 528.3,270.0 522.0,263.9 508.0,253.1 469.6,226.0 460.5,218.0 453.7,210.0 447.2,200.0 444.4,192.0 444.3,176.0 446.0,172.1 448.0,171.4Z" fill="#f5f5f5" stroke="#f5f5f5" stroke-width="0.6"/>
</mask>
<rect x="100" y="0" width="600" height="540" fill="url(#tx)" mask="url(#txm)"/>
</g>
<path d="M512.5,45.8 L451.5,327.0" stroke="#000" stroke-width="4.7" stroke-dasharray="3.5 3.9" fill="none"/>
<path d="M553.3,59.8 L491.4,350.4" stroke="#000" stroke-width="4.7" stroke-dasharray="3.5 3.9" fill="none"/>
<path d="M228.7,10.8 C239.1,13.7 249.6,16.4 260.0,19.5 C269.8,22.4 279.5,25.8 289.2,29.0 C298.9,32.1 308.5,35.5 318.3,38.4 C328.0,41.3 337.7,43.9 347.5,46.5 C357.2,49.0 367.1,50.8 376.7,53.7 C384.6,56.1 392.4,59.2 400.0,62.5 C406.7,65.4 413.0,69.0 419.5,72.2" stroke="#000" stroke-width="4.6" stroke-dasharray="5.8 3.3" fill="none"/>
<path d="M666.4,309.4 L685.8,317.2" stroke="#000" stroke-width="4.6" stroke-dasharray="5.8 3.3" fill="none"/>
<g stroke="#000" stroke-width="4.0" fill="none" stroke-linejoin="miter" stroke-linecap="butt" clip-path="url(#frameclip)">
<path d="M170.4,51.7 C168.3,49.3 166.0,47.0 164.0,44.5 C162.6,42.8 160.8,41.0 160.2,39.3 C160.0,38.7 160.9,37.9 161.5,37.6 C162.4,37.2 163.6,37.3 164.6,37.4 C167.5,37.8 170.6,38.1 173.3,39.3 C178.4,41.4 182.9,44.8 187.9,47.3 C193.2,49.9 198.6,52.2 204.0,54.6 M204.0,54.6 C200.6,49.2 196.8,44.1 193.7,38.5 C191.7,34.8 189.9,30.8 188.6,26.9 C188.2,25.8 188.3,24.5 188.6,23.5 C188.8,22.8 189.4,22.1 190.1,21.8 C192.1,20.8 194.4,19.7 196.7,19.6 C202.9,19.4 209.3,20.2 215.6,21.0 C222.9,21.9 230.2,23.4 237.5,24.7 C245.0,26.1 252.6,27.0 260.0,29.0 C269.9,31.6 279.4,35.5 289.2,38.4 C298.8,41.3 308.5,44.1 318.3,46.5 C328.0,48.9 337.7,50.9 347.5,53.0 C358.3,55.3 369.3,56.9 380.0,59.6 C386.8,61.4 393.4,64.1 400.0,66.5 C407.0,69.1 413.8,72.0 420.8,74.6 C426.8,76.9 432.8,79.1 438.9,81.3 C445.9,83.8 453.0,86.2 460.0,88.7 C465.9,90.8 471.9,92.9 477.8,95.0 C484.5,97.4 491.3,99.7 498.0,102.1 C504.2,104.3 510.4,106.5 516.6,108.7 C524.0,111.3 531.5,113.6 538.7,116.6 C545.9,119.6 553.0,123.0 560.0,126.5 C563.2,128.1 566.3,129.8 569.2,131.7 C575.8,136.0 582.2,140.6 588.6,145.3 C591.9,147.7 594.8,151.0 598.3,153.0 C600.3,154.1 602.9,154.7 605.1,154.6 C607.4,154.4 610.2,153.7 611.9,152.1 C615.0,149.3 617.2,145.0 619.7,141.4 C622.0,138.1 624.3,134.7 626.2,131.2 C628.2,127.6 629.7,123.7 631.4,120.0 C634.6,113.1 637.4,106.0 640.8,99.2 C647.6,85.4 655.0,71.9 662.1,58.3"/>
<path d="M218.3,100.2 C216.9,98.1 215.2,96.2 214.0,94.0 C213.2,92.6 212.5,90.8 212.5,89.3 C212.5,88.6 213.3,87.8 214.0,87.5 C214.8,87.1 216.0,86.9 216.9,87.1 C220.3,87.8 223.9,88.6 227.1,90.0 C232.6,92.4 237.7,95.9 243.1,98.7 C248.4,101.5 253.8,104.1 259.2,106.8 M259.2,106.8 C256.3,101.7 253.4,96.5 250.4,91.5 C248.3,88.0 245.6,84.8 243.8,81.2 C242.9,79.4 242.5,77.3 242.4,75.4 C242.4,74.6 242.9,73.6 243.5,73.0 C244.1,72.4 245.1,72.0 246.0,71.8 C249.3,71.1 252.8,70.1 256.2,70.3 C265.0,70.8 273.8,72.4 282.5,74.0 C294.5,76.1 306.5,78.6 318.3,81.4 C328.1,83.7 337.7,86.9 347.5,89.5 C358.3,92.3 369.4,94.2 380.0,97.5 C389.7,100.5 399.0,105.2 408.6,108.6 C418.6,112.1 428.9,114.9 438.9,118.3 C446.0,120.7 453.0,123.4 460.0,126.2 C466.0,128.6 471.8,131.4 477.8,133.9 C490.7,139.2 503.6,144.4 516.6,149.4 C524.3,152.4 532.6,154.3 540.0,157.9 C546.9,161.3 553.8,165.3 559.4,170.5 C566.8,177.3 572.4,186.1 578.9,193.9 C582.1,197.8 584.8,202.4 588.6,205.5 C590.7,207.2 593.8,208.5 596.4,208.5 C599.0,208.5 602.2,207.2 604.2,205.5 C606.7,203.3 608.4,199.9 610.0,196.8 C616.2,184.4 621.6,171.5 627.5,158.9 C633.6,145.9 639.9,133.0 646.0,120.0 C651.1,109.2 656.1,98.3 661.2,87.5"/>
<path d="M289.0,163.6 C288.0,162.4 286.8,161.3 286.0,160.0 C285.5,159.2 285.2,158.0 285.3,157.1 C285.4,156.5 286.0,155.8 286.5,155.5 C287.2,155.1 288.2,154.8 289.0,154.9 C292.4,155.3 296.0,155.7 299.2,157.1 C305.7,159.9 311.9,163.8 318.1,167.3 C323.5,170.4 328.8,173.6 334.2,176.8 M334.2,176.8 C331.3,171.7 328.4,166.6 325.4,161.5 C323.0,157.6 320.2,153.8 318.1,149.8 C317.3,148.2 316.8,146.4 316.7,144.7 C316.7,143.9 317.2,142.9 317.8,142.3 C318.4,141.7 319.4,141.1 320.3,141.0 C323.9,140.5 327.6,139.9 331.2,140.3 C340.0,141.3 348.8,143.5 357.5,145.4 C366.3,147.4 375.0,149.9 383.7,152.0 C389.1,153.3 394.7,154.2 400.0,155.8 C406.6,157.8 412.9,160.8 419.4,163.0 C425.8,165.2 432.4,166.9 438.9,169.0 C445.4,171.1 451.9,173.1 458.3,175.6 C471.4,180.8 484.5,186.0 497.2,192.0 C510.4,198.3 523.1,205.7 536.1,212.5 C541.3,215.2 546.7,217.5 551.7,220.5 C554.7,222.3 557.7,224.4 560.0,227.0 C563.8,231.5 566.8,236.9 570.0,242.0 C573.1,246.9 575.4,252.4 578.9,256.9 C581.6,260.3 585.0,263.3 588.6,265.7 C590.9,267.2 593.9,268.8 596.4,268.6 C599.1,268.4 602.5,266.9 604.2,264.7 C608.4,259.2 611.2,252.0 613.9,245.3 C617.3,237.1 619.3,228.3 622.5,220.0 C635.4,185.9 649.0,152.0 662.2,118.0"/>
<path d="M338.9,211.0 C337.9,209.5 336.7,208.1 336.0,206.5 C335.4,205.2 334.8,203.6 334.9,202.3 C335.0,201.6 335.8,200.8 336.5,200.5 C337.5,200.1 338.9,199.8 340.0,200.1 C345.9,201.8 351.9,204.0 357.5,206.7 C363.2,209.5 368.5,213.2 373.9,216.7 C378.2,219.5 382.3,222.5 386.5,225.4 M386.5,225.4 C382.9,219.9 379.2,214.5 375.8,208.9 C373.4,204.9 371.5,200.6 369.2,196.5 C368.1,194.5 366.3,192.6 365.7,190.6 C365.4,189.7 365.9,188.5 366.5,187.8 C367.1,187.0 368.2,186.4 369.2,186.2 C372.5,185.4 376.0,184.8 379.4,184.8 C382.9,184.8 386.5,185.5 390.0,186.2 C393.4,186.9 396.6,188.2 400.0,189.0 C412.6,192.1 425.4,194.5 438.0,197.8 C445.4,199.7 452.9,201.8 460.0,204.5 C466.1,206.8 471.9,210.1 477.8,213.0 C490.7,219.3 503.7,225.5 516.6,231.9 C524.5,235.8 533.1,238.7 540.0,244.0 C547.4,249.7 553.6,257.3 559.4,264.7 C566.6,273.9 571.9,284.6 578.9,293.9 C581.6,297.5 584.9,301.2 588.6,303.6 C590.8,305.0 593.9,305.8 596.4,305.5 C599.1,305.2 602.5,303.8 604.2,301.6 C607.6,297.3 609.9,291.5 611.9,286.1 C615.7,276.0 618.1,265.3 621.6,255.0 C623.3,249.9 625.7,245.1 627.4,240.0 C629.6,233.4 631.0,226.6 633.3,220.0 C642.0,195.1 651.4,170.3 660.5,145.5"/>
<path d="M404.5,269.0 C403.7,267.8 402.6,266.8 402.0,265.5 C401.4,264.2 400.9,262.7 401.1,261.4 C401.2,260.6 402.1,259.6 402.8,259.2 C403.7,258.7 405.0,258.2 406.0,258.5 C410.9,260.2 415.8,262.7 420.5,265.3 C425.9,268.2 430.8,271.9 436.1,275.0 C439.5,277.0 443.0,278.7 446.5,280.6 M446.5,280.6 C442.4,274.8 438.0,269.2 434.1,263.3 C431.6,259.5 429.2,255.6 427.3,251.6 C426.7,250.4 426.6,248.8 426.8,247.5 C426.9,246.5 427.5,245.3 428.3,244.8 C430.6,243.5 433.4,242.5 436.1,242.3 C440.2,241.9 444.5,242.6 448.6,243.0 C452.4,243.4 456.3,243.7 460.0,244.8 C466.1,246.5 471.9,249.1 477.8,251.4 C490.8,256.5 503.9,261.3 516.6,266.9 C524.6,270.5 533.3,273.6 540.0,279.0 C547.6,285.1 553.7,293.6 559.4,301.6 C563.4,307.2 565.4,314.2 569.2,320.0 C573.8,326.8 578.9,333.6 584.7,339.4 C588.0,342.7 592.2,345.4 596.4,347.2 C599.3,348.5 603.1,349.5 606.1,348.8 C609.0,348.2 612.1,345.8 613.9,343.3 C616.3,340.1 617.4,335.7 618.7,331.7 C620.0,327.9 620.7,323.9 621.6,320.0 C623.0,313.9 624.1,307.7 625.5,301.6 C628.0,290.6 630.7,279.6 633.3,268.6 C635.5,259.1 637.5,249.5 640.0,240.0 C641.8,233.3 643.7,226.6 646.0,220.0 C653.9,197.4 662.4,175.0 670.6,152.5"/>
<path d="M493.3,343.6 C495.2,343.7 497.1,343.5 499.0,343.8 C501.0,344.1 503.2,344.6 505.0,345.5 C507.2,346.6 509.3,348.2 511.0,350.0 C513.1,352.1 514.7,354.8 516.6,357.2 M516.6,357.2 C514.7,350.7 512.7,344.3 510.8,337.8 C509.8,334.5 508.2,331.2 507.9,328.0 C507.8,326.8 508.7,325.3 509.5,324.5 C510.3,323.7 511.6,323.2 512.8,323.2 C517.3,323.4 522.2,323.5 526.4,325.1 C531.3,327.1 535.9,330.5 540.0,334.0 C546.9,339.8 553.3,346.3 559.4,353.0 C566.3,360.5 572.1,368.9 578.9,376.4 C585.0,383.2 591.2,390.1 598.3,395.8 C602.9,399.5 608.4,402.5 613.9,404.6 C616.9,405.7 620.6,406.1 623.6,405.5 C626.1,405.1 629.1,403.7 630.4,401.6 C632.7,397.8 633.7,392.6 634.3,388.0 C635.6,378.4 635.4,368.6 636.2,358.9 C637.0,349.2 638.0,339.4 639.1,329.7 C640.3,319.1 641.2,308.3 643.0,297.8 C645.1,286.0 648.1,274.4 650.8,262.8 C652.6,255.2 654.5,247.6 656.6,240.0 C658.4,233.3 660.2,226.6 662.5,220.0 C669.3,200.2 676.8,180.5 683.9,160.8 C684.6,158.9 685.3,156.9 686.0,155.0"/>
<path d="M580.8,467.6 C578.9,464.0 576.4,460.6 575.0,456.9 C574.0,454.2 573.2,450.9 573.4,448.2 C573.5,447.0 574.9,445.4 576.0,445.3 C578.0,445.1 580.7,446.1 582.8,447.2 C588.2,450.0 593.2,453.5 598.3,456.9 C604.9,461.3 611.2,466.1 617.8,470.5 C625.5,475.5 633.0,480.9 641.1,485.1 C644.4,486.8 648.3,488.2 651.8,488.0 C654.5,487.9 657.9,486.2 659.6,484.2 C661.7,481.7 662.6,477.8 663.4,474.4 C664.6,469.4 665.0,464.1 665.4,458.9 C665.9,452.4 666.2,445.9 666.0,439.4 C665.8,432.9 664.9,426.5 664.4,420.0 C663.8,412.6 662.9,405.2 662.5,397.8 C661.9,384.8 661.4,371.9 661.5,358.9 C661.7,345.9 662.6,332.9 663.4,320.0 C663.5,317.7 664.0,315.5 664.4,313.3 C666.9,298.7 669.6,284.2 672.2,269.6"/>
</g>
<path d="M127.0,10.4 C134.7,17.6 142.4,24.7 150.0,32.0 C156.8,38.5 163.5,45.2 170.4,51.7 C178.1,59.0 186.2,66.0 193.7,73.5 C201.7,81.4 209.0,90.0 216.9,98.0 C224.0,105.2 231.3,112.3 238.7,119.2 C247.8,127.8 257.0,136.2 266.4,144.5 C267.5,145.4 268.9,145.9 270.0,146.8 C279.9,155.6 289.5,164.6 299.2,173.6 C308.9,182.6 318.6,191.8 328.3,200.8 C333.1,205.3 338.0,209.6 342.9,214.0 C354.5,224.6 366.0,235.3 377.8,245.8 C385.1,252.3 392.7,258.3 400.0,264.8 C405.1,269.4 409.9,274.4 415.0,279.0 C419.7,283.3 424.3,287.5 429.2,291.5 C438.8,299.3 448.7,306.6 458.3,314.4 C470.1,324.0 482.4,333.1 493.3,343.6 C499.3,349.3 503.7,356.5 508.9,363.0 C513.1,368.2 517.4,373.3 521.5,378.6 C527.8,386.8 534.3,395.0 540.0,403.6 C543.4,408.8 545.3,414.9 548.7,420.0 C553.1,426.5 558.8,432.2 563.3,438.6 C565.6,441.9 567.0,445.8 569.2,449.2 C575.5,459.0 582.0,468.7 588.6,478.3 C593.6,485.6 598.3,493.2 604.2,499.7 C610.0,506.1 617.1,511.4 623.6,517.2 C627.5,520.8 631.4,524.4 635.3,527.9 C636.0,528.5 636.8,529.1 637.5,529.7" stroke="#0000ff" stroke-width="3.7" fill="none" clip-path="url(#frameclip)"/>
<path d="M384.9,70.9 L430.3,142.0 L430.3,230.0 L384.9,153.5 Z" stroke="#000" stroke-width="3.2" fill="none" stroke-linejoin="miter"/>
<path d="M385.0,115.6 L430.2,233.5 L430.2,316.5 L385.0,195.8 Z" stroke="#0000ff" stroke-width="3.2" fill="none" stroke-linejoin="miter"/>
<path d="M385.1,270.0 L430.5,279.5 L430.5,362.8 L385.1,351.0 Z" stroke="#ff0000" stroke-width="3.2" fill="none" stroke-linejoin="miter"/>
<path d="M430.3,46.6 L414.4,100.6" stroke="#000" stroke-width="3.2" fill="none"/><path d="M422.3,91.4 L413.8,102.5 L412.7,88.5" fill="none" stroke="#000" stroke-width="3.2" stroke-linejoin="miter" stroke-miterlimit="10"/>
<path d="M341.7,297.6 L381.8,243.4" stroke="#000" stroke-width="3.2" fill="none"/><path d="M369.6,251.4 L383.0,241.8 L377.8,257.4" fill="none" stroke="#000" stroke-width="3.2" stroke-linejoin="miter" stroke-miterlimit="10"/>
<path d="M332.2,369.7 L365.7,358.6" stroke="#000" stroke-width="3.2" fill="none"/><path d="M376.0,355.2 L362.5,354.6 L365.6,363.8 Z" fill="#000" stroke="#000" stroke-width="0.8" stroke-linejoin="miter"/>
<g stroke="#000" stroke-width="3.1" fill="none">
<rect x="109.0" y="10.5" width="577.8" height="519.2"/>
<path d="M194.8,529.7 v-12.6 M194.8,10.5 v12.6"/>
<path d="M280.6,529.7 v-12.6 M280.6,10.5 v12.6"/>
<path d="M366.3,529.7 v-12.6 M366.3,10.5 v12.6"/>
<path d="M452.1,529.7 v-12.6 M452.1,10.5 v12.6"/>
<path d="M537.9,529.7 v-12.6 M537.9,10.5 v12.6"/>
<path d="M623.7,529.7 v-12.6 M623.7,10.5 v12.6"/>
<path d="M109.0,82.4 h12.6 M686.8,82.4 h-12.6"/>
<path d="M109.0,154.3 h12.6 M686.8,154.3 h-12.6"/>
<path d="M109.0,226.3 h12.6 M686.8,226.3 h-12.6"/>
<path d="M109.0,298.2 h12.6 M686.8,298.2 h-12.6"/>
<path d="M109.0,370.1 h12.6 M686.8,370.1 h-12.6"/>
<path d="M109.0,442.1 h12.6 M686.8,442.1 h-12.6"/>
<path d="M109.0,514.1 h12.6 M686.8,514.1 h-12.6"/>
</g>
<text x="88.9" y="19.3" font-size="25.5" text-anchor="end">3.0</text>
<text x="88.9" y="91.3" font-size="25.5" text-anchor="end">2.5</text>
<text x="88.9" y="163.2" font-size="25.5" text-anchor="end">2.0</text>
<text x="88.9" y="235.2" font-size="25.5" text-anchor="end">1.5</text>
<text x="88.9" y="307.1" font-size="25.5" text-anchor="end">1.0</text>
<text x="88.9" y="379.0" font-size="25.5" text-anchor="end">0.5</text>
<text x="88.9" y="451.0" font-size="25.5" text-anchor="end">0.0</text>
<text x="88.9" y="523.0" font-size="25.5" text-anchor="end">-0.5</text>
<text x="108.7" y="571.6" font-size="25.5" text-anchor="middle">4.30</text>
<text x="194.5" y="571.6" font-size="25.5" text-anchor="middle">4.20</text>
<text x="280.3" y="571.6" font-size="25.5" text-anchor="middle">4.10</text>
<text x="366.0" y="571.6" font-size="25.5" text-anchor="middle">4.00</text>
<text x="451.8" y="571.6" font-size="25.5" text-anchor="middle">3.90</text>
<text x="537.6" y="571.6" font-size="25.5" text-anchor="middle">3.80</text>
<text x="623.4" y="571.6" font-size="25.5" text-anchor="middle">3.70</text>
<text x="183.6" y="90.0" font-size="25.5" text-anchor="end">4.99</text>
<text x="227.0" y="133.5" font-size="25.5" text-anchor="end">4.00</text>
<text x="286.5" y="191.7" font-size="25.5" text-anchor="end">3.00</text>
<text x="346.4" y="248.7" font-size="25.5" text-anchor="end">2.50</text>
<text x="415.3" y="306.0" font-size="25.5" text-anchor="end">2.00</text>
<text x="501.8" y="378.7" font-size="25.5" text-anchor="end">1.50</text>
<text x="570.0" y="465.2" font-size="25.5" text-anchor="end">1.00</text>
<text x="439.4" y="39.6" font-size="25.5" text-anchor="middle">C</text>
<text x="332.2" y="306" font-size="25.5" text-anchor="middle">B</text>
<text x="323.8" y="378.3" font-size="25.5" text-anchor="middle">A</text>
<text x="589.5" y="77.3" font-size="25.5" text-anchor="middle">Instab.</text>
<text x="589.5" y="103" font-size="25.5" text-anchor="middle">strip</text>
<path d="M134,456 H205.3" stroke="#000" stroke-width="5" stroke-dasharray="6 3.2" fill="none"/>
<path d="M134,481.4 H205.3" stroke="#000" stroke-width="3.4" fill="none"/>
<path d="M134,507.5 H205.3" stroke="#0000ff" stroke-width="3.4" fill="none"/>
<text x="221" y="464.3" font-size="25.5">Birthline</text>
<text x="221" y="487.3" font-size="25.5">Mass tracks (M</text>
<circle cx="411.2" cy="490.6" r="6.4" fill="none" stroke="#000" stroke-width="0.9"/><circle cx="411.2" cy="490.6" r="1.5" fill="#000"/>
<text x="418" y="487.3" font-size="25.5">)</text>
<text x="221" y="515.3" font-size="25.5">ZAMS</text>
<text x="333.2" y="606.5" font-size="25.5">log (T<tspan font-size="19.6" dy="7.2">eff</tspan><tspan dy="-7.2">/K)</tspan></text>
<g transform="translate(26.8,327.5) rotate(-90)"><text x="-1.7" y="0" font-size="25.5">log (L/L</text>
<circle cx="98.4" cy="1.2" r="6.4" fill="none" stroke="#000" stroke-width="0.9"/><circle cx="98.4" cy="1.2" r="1.5" fill="#000"/>
<text x="106" y="0" font-size="25.5">)</text></g>
<g transform="translate(821.8,390.6) rotate(-90)"><text x="0" y="0" font-size="25.5">Large spacing (<tspan font-family="Liberation Serif" font-weight="normal" font-style="normal">&#956;</tspan>Hz)</text></g>
<defs><clipPath id="frameclip"><rect x="109.0" y="10.5" width="577.8" height="519.2"/></clipPath>
<linearGradient id="cb" gradientUnits="userSpaceOnUse" x1="0" y1="10.4" x2="0" y2="529.7">
<stop offset="0.00000" stop-color="#fff820"/><stop offset="0.03100" stop-color="#ffe812"/>
<stop offset="0.03100" stop-color="#f8de1c"/><stop offset="0.04641" stop-color="#f6d818"/>
<stop offset="0.04641" stop-color="#f5d214"/><stop offset="0.06393" stop-color="#f3cc0c"/>
<stop offset="0.06393" stop-color="#f5c232"/><stop offset="0.10514" stop-color="#f3ba22"/>
<stop offset="0.10514" stop-color="#f2b606"/><stop offset="0.12055" stop-color="#f1b200"/>
<stop offset="0.12055" stop-color="#f0ae00"/><stop offset="0.13826" stop-color="#eea800"/>
<stop offset="0.13826" stop-color="#f0aa3a"/><stop offset="0.16002" stop-color="#efa636"/>
<stop offset="0.16002" stop-color="#eea030"/><stop offset="0.17735" stop-color="#ec9a28"/>
<stop offset="0.17735" stop-color="#e99212"/><stop offset="0.19469" stop-color="#e88c08"/>
<stop offset="0.19469" stop-color="#e88600"/><stop offset="0.21009" stop-color="#e68000"/>
<stop offset="0.21009" stop-color="#e68c32"/><stop offset="0.24475" stop-color="#e4862e"/>
<stop offset="0.24475" stop-color="#e27200"/><stop offset="0.27787" stop-color="#df6a00"/>
<stop offset="0.27787" stop-color="#e07428"/><stop offset="0.31080" stop-color="#de6e22"/>
<stop offset="0.31080" stop-color="#dd6410"/><stop offset="0.34123" stop-color="#d95a08"/>
<stop offset="0.34123" stop-color="#da6628"/><stop offset="0.37859" stop-color="#d66024"/>
<stop offset="0.37859" stop-color="#cd4000"/><stop offset="0.41132" stop-color="#ca3a00"/>
<stop offset="0.41132" stop-color="#cd4e2c"/><stop offset="0.44598" stop-color="#c94828"/>
<stop offset="0.44598" stop-color="#c22e00"/><stop offset="0.47237" stop-color="#be2800"/>
<stop offset="0.47237" stop-color="#c94228"/><stop offset="0.51300" stop-color="#c43c24"/>
<stop offset="0.51300" stop-color="#b81c20"/><stop offset="0.54362" stop-color="#b01840"/>
<stop offset="0.54362" stop-color="#b83a68"/><stop offset="0.58078" stop-color="#b02a78"/>
<stop offset="0.58078" stop-color="#a81088"/><stop offset="0.61352" stop-color="#a010a0"/>
<stop offset="0.61352" stop-color="#a434c0"/><stop offset="0.64818" stop-color="#9c30c8"/>
<stop offset="0.64818" stop-color="#9010d0"/><stop offset="0.67899" stop-color="#8a10da"/>
<stop offset="0.67899" stop-color="#9234f0"/><stop offset="0.71365" stop-color="#8c30f4"/>
<stop offset="0.71365" stop-color="#7c00ff"/><stop offset="0.74639" stop-color="#7600fc"/>
<stop offset="0.74639" stop-color="#8c30f8"/><stop offset="0.78105" stop-color="#882cf4"/>
<stop offset="0.78105" stop-color="#7000f0"/><stop offset="0.81571" stop-color="#6a00e6"/>
<stop offset="0.81571" stop-color="#7c2ad8"/><stop offset="0.85038" stop-color="#7626d0"/>
<stop offset="0.85038" stop-color="#5e00bc"/><stop offset="0.88311" stop-color="#5800b0"/>
<stop offset="0.88311" stop-color="#6c2aa8"/><stop offset="0.91585" stop-color="#6426a0"/>
<stop offset="0.91585" stop-color="#4a007c"/><stop offset="0.94858" stop-color="#400068"/>
<stop offset="0.94858" stop-color="#522a5a"/><stop offset="0.98132" stop-color="#401a42"/>
<stop offset="0.98132" stop-color="#240a1c"/><stop offset="1.00000" stop-color="#000000"/>
</linearGradient></defs>
<rect x="700.8" y="10.4" width="28.6" height="519.3" fill="url(#cb)"/>
<g stroke="#000" stroke-width="3.1" fill="none">
<rect x="700.8" y="10.5" width="28.6" height="519.2"/>
<path d="M700.8,43.7 h9.5 M729.4,43.7 h-9.5"/>
<path d="M700.8,82.2 h9.5 M729.4,82.2 h-9.5"/>
<path d="M700.8,127.8 h9.5 M729.4,127.8 h-9.5"/>
<path d="M700.8,183.5 h9.5 M729.4,183.5 h-9.5"/>
<path d="M700.8,255.3 h9.5 M729.4,255.3 h-9.5"/>
<path d="M700.8,356.6 h9.5 M729.4,356.6 h-9.5"/>
</g>
<text x="758.6" y="19.3" font-size="25.5">80</text>
<text x="758.6" y="52.6" font-size="25.5">70</text>
<text x="758.6" y="91.1" font-size="25.5">60</text>
<text x="758.6" y="136.7" font-size="25.5">50</text>
<text x="758.6" y="192.4" font-size="25.5">40</text>
<text x="758.6" y="264.3" font-size="25.5">30</text>
<text x="758.6" y="365.5" font-size="25.5">20</text>
<text x="758.6" y="538.6" font-size="25.5">10</text>
</svg></body></html>
